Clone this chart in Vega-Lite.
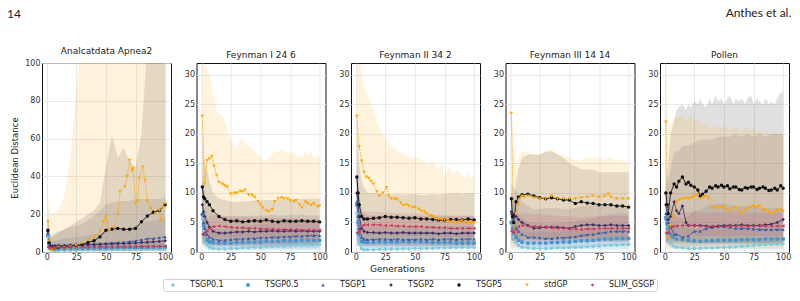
{
"$schema":"https://vega.github.io/schema/vega-lite/v6.json",
"autosize":{"type":"none"},
"padding":{"left":42,"top":63,"right":758,"bottom":238},
"background":"white",
"config":{
 "font":"DejaVu Sans",
 "view":{"stroke":"#111111","strokeWidth":1},
 "axis":{"labelFont":"DejaVu Sans","labelFontSize":8,"labelColor":"#333333","ticks":false,"domain":false,"gridColor":"#e4e4e4","gridWidth":0.8,"labelPadding":2,"titleFont":"DejaVu Sans","titleFontSize":9,"titleFontWeight":"normal","titleColor":"#222222"},
 "title":{"font":"DejaVu Sans","fontSize":9,"fontWeight":"normal","offset":3,"color":"#222222"},
 "legend":{"orient":"none","legendX":121,"legendY":216,"direction":"horizontal","columns":7,"title":null,"symbolSize":100,"symbolOffset":4,"labelFontSize":8,"labelFont":"DejaVu Sans","labelColor":"#222222","labelOffset":13,"columnPadding":16,"padding":2,"strokeColor":"#d0d0d0","cornerRadius":2,"fillColor":"white","symbolStrokeWidth":0}
},
"title":{"text":"14","anchor":"start","frame":"group","font":"Lato","fontSize":12,"fontWeight":"normal","color":"#222222","dx":-35,"offset":0,"dy":14},
"bounds":"flush",
"vconcat":[{
 "title":{"text":"Anthes et al.","anchor":"end","frame":"bounds","font":"Lato","fontSize":12,"fontWeight":"normal","color":"#222222","offset":27},
 "bounds":"flush",
 "spacing":25.5,
 "hconcat":[
  {"title":"Analcatdata Apnea2","width":129,"height":189,"data":{"name":"apnea"},
   "encoding":{"x":{"field":"g","type":"quantitative","scale":{"domain":[-3.95,104.95],"nice":false,"zero":false},"axis":{"values":[0,25,50,75,100],"title":null,"labelPadding":1}}},
   "layer":[
    {"transform":[{"filter":"isValid(datum.h)"}],"mark":{"type":"area","opacity":0.13,"clip":true},
     "encoding":{"y":{"field":"l","type":"quantitative","scale":{"domain":[0,100],"nice":false,"zero":false},"axis":{"values":[0,20,40,60,80,100],"title":"Euclidean Distance","titlePadding":5,"titleFontSize":8.5}},"y2":{"field":"h"},
      "color":{"field":"s","type":"nominal","scale":{"domain":["TSGP0.1","TSGP0.5","TSGP1","TSGP2","TSGP5","stdGP","SLIM_GSGP"],"range":["#7ecbdc","#4a92cb","#3d5aa8","#3a2e5f","#111111","#ffa500","#c9355a"]},
       "legend":{"orient":"none","legendX":121,"legendY":216,"direction":"horizontal","columns":7,"title":null,
        "encode":{"symbols":{"update":{
         "shape":{"signal":"datum.value=='TSGP0.1'?'M-1.75,-0.12L1.75,-0.12L1.75,0.12L-1.75,0.12ZM0.4,0L0.283,0.283L0,0.4L-0.283,0.283L-0.4,0L-0.283,-0.283L0,-0.4L0.283,-0.283Z':datum.value=='TSGP0.5'?'M-1.75,-0.12L-1.55,-0.12L-1.55,0.12L-1.75,0.12ZM-1.25,-0.12L-1.05,-0.12L-1.05,0.12L-1.25,0.12ZM-0.75,-0.12L-0.55,-0.12L-0.55,0.12L-0.75,0.12ZM0.75,-0.12L0.95,-0.12L0.95,0.12L0.75,0.12ZM1.25,-0.12L1.45,-0.12L1.45,0.12L1.25,0.12ZM-0.35,-0.35L0.35,-0.35L0.35,0.35L-0.35,0.35Z':datum.value=='TSGP1'?'M-1.75,-0.12L-1.15,-0.12L-1.15,0.12L-1.75,0.12ZM-0.85,-0.12L-0.25,-0.12L-0.25,0.12L-0.85,0.12ZM0.05,-0.12L0.65,-0.12L0.65,0.12L0.05,0.12ZM0.95,-0.12L1.55,-0.12L1.55,0.12L0.95,0.12ZM0,-0.45L0.4,0.3L-0.4,0.3Z':datum.value=='TSGP2'?'M-1.75,-0.1L1.75,-0.1L1.75,0.1L-1.75,0.1ZM0,-0.5L0.25,0L0,0.5L-0.25,0Z':datum.value=='TSGP5'?'M-1.75,-0.12L1.75,-0.12L1.75,0.12L-1.75,0.12ZM0.3,0L0.212,0.212L0,0.3L-0.212,0.212L-0.3,0L-0.212,-0.212L0,-0.3L0.212,-0.212Z':datum.value=='stdGP'?'M-1.75,-0.12L-1.55,-0.12L-1.55,0.12L-1.75,0.12ZM-1.25,-0.12L-1.05,-0.12L-1.05,0.12L-1.25,0.12ZM-0.75,-0.12L-0.55,-0.12L-0.55,0.12L-0.75,0.12ZM0.75,-0.12L0.95,-0.12L0.95,0.12L0.75,0.12ZM1.25,-0.12L1.45,-0.12L1.45,0.12L1.25,0.12ZM0,0.45L-0.4,-0.3L0.4,-0.3Z':'M-1.75,-0.12L-1.15,-0.12L-1.15,0.12L-1.75,0.12ZM-0.85,-0.12L-0.25,-0.12L-0.25,0.12L-0.85,0.12ZM0.05,-0.12L0.65,-0.12L0.65,0.12L0.05,0.12ZM0.95,-0.12L1.55,-0.12L1.55,0.12L0.95,0.12ZM-0.45,0L0.3,-0.4L0.3,0.4Z'"},
         "size":{"value":100},
         "fillOpacity":{"value":1},"opacity":{"value":1},"strokeWidth":{"value":0}}}}}}}},
    {"mark":{"type":"line","strokeWidth":1,"clip":true},
     "encoding":{"y":{"field":"y","type":"quantitative","scale":{"domain":[0,100],"nice":false,"zero":false},"axis":{"values":[0,20,40,60,80,100],"title":"Euclidean Distance","titlePadding":5,"titleFontSize":8.5}},
      "color":{"field":"s","type":"nominal","scale":{"domain":["TSGP0.1","TSGP0.5","TSGP1","TSGP2","TSGP5","stdGP","SLIM_GSGP"],"range":["#7ecbdc","#4a92cb","#3d5aa8","#3a2e5f","#111111","#ffa500","#c9355a"]},
       "legend":{"orient":"none","legendX":121,"legendY":216,"direction":"horizontal","columns":7,"title":null,
        "encode":{"symbols":{"update":{
         "shape":{"signal":"datum.value=='TSGP0.1'?'M-1.75,-0.12L1.75,-0.12L1.75,0.12L-1.75,0.12ZM0.4,0L0.283,0.283L0,0.4L-0.283,0.283L-0.4,0L-0.283,-0.283L0,-0.4L0.283,-0.283Z':datum.value=='TSGP0.5'?'M-1.75,-0.12L-1.55,-0.12L-1.55,0.12L-1.75,0.12ZM-1.25,-0.12L-1.05,-0.12L-1.05,0.12L-1.25,0.12ZM-0.75,-0.12L-0.55,-0.12L-0.55,0.12L-0.75,0.12ZM0.75,-0.12L0.95,-0.12L0.95,0.12L0.75,0.12ZM1.25,-0.12L1.45,-0.12L1.45,0.12L1.25,0.12ZM-0.35,-0.35L0.35,-0.35L0.35,0.35L-0.35,0.35Z':datum.value=='TSGP1'?'M-1.75,-0.12L-1.15,-0.12L-1.15,0.12L-1.75,0.12ZM-0.85,-0.12L-0.25,-0.12L-0.25,0.12L-0.85,0.12ZM0.05,-0.12L0.65,-0.12L0.65,0.12L0.05,0.12ZM0.95,-0.12L1.55,-0.12L1.55,0.12L0.95,0.12ZM0,-0.45L0.4,0.3L-0.4,0.3Z':datum.value=='TSGP2'?'M-1.75,-0.1L1.75,-0.1L1.75,0.1L-1.75,0.1ZM0,-0.5L0.25,0L0,0.5L-0.25,0Z':datum.value=='TSGP5'?'M-1.75,-0.12L1.75,-0.12L1.75,0.12L-1.75,0.12ZM0.3,0L0.212,0.212L0,0.3L-0.212,0.212L-0.3,0L-0.212,-0.212L0,-0.3L0.212,-0.212Z':datum.value=='stdGP'?'M-1.75,-0.12L-1.55,-0.12L-1.55,0.12L-1.75,0.12ZM-1.25,-0.12L-1.05,-0.12L-1.05,0.12L-1.25,0.12ZM-0.75,-0.12L-0.55,-0.12L-0.55,0.12L-0.75,0.12ZM0.75,-0.12L0.95,-0.12L0.95,0.12L0.75,0.12ZM1.25,-0.12L1.45,-0.12L1.45,0.12L1.25,0.12ZM0,0.45L-0.4,-0.3L0.4,-0.3Z':'M-1.75,-0.12L-1.15,-0.12L-1.15,0.12L-1.75,0.12ZM-0.85,-0.12L-0.25,-0.12L-0.25,0.12L-0.85,0.12ZM0.05,-0.12L0.65,-0.12L0.65,0.12L0.05,0.12ZM0.95,-0.12L1.55,-0.12L1.55,0.12L0.95,0.12ZM-0.45,0L0.3,-0.4L0.3,0.4Z'"},
         "size":{"value":100},
         "fillOpacity":{"value":1},"opacity":{"value":1},"strokeWidth":{"value":0}}}}}},
      "strokeDash":{"field":"s","type":"nominal","scale":{"domain":["TSGP0.1","TSGP0.5","TSGP1","TSGP2","TSGP5","stdGP","SLIM_GSGP"],"range":[[1,0],[1,1],[3,1.5],[1,0],[1,0],[1,1],[3,1.5]]},"legend":null}}},
    {"mark":{"type":"point","filled":true,"opacity":1,"clip":true},
     "encoding":{"y":{"field":"y","type":"quantitative","scale":{"domain":[0,100],"nice":false,"zero":false},"axis":{"values":[0,20,40,60,80,100],"title":"Euclidean Distance","titlePadding":5,"titleFontSize":8.5}},
      "color":{"field":"s","type":"nominal","scale":{"domain":["TSGP0.1","TSGP0.5","TSGP1","TSGP2","TSGP5","stdGP","SLIM_GSGP"],"range":["#7ecbdc","#4a92cb","#3d5aa8","#3a2e5f","#111111","#ffa500","#c9355a"]},
       "legend":{"orient":"none","legendX":121,"legendY":216,"direction":"horizontal","columns":7,"title":null,
        "encode":{"symbols":{"update":{
         "shape":{"signal":"datum.value=='TSGP0.1'?'M-1.75,-0.12L1.75,-0.12L1.75,0.12L-1.75,0.12ZM0.4,0L0.283,0.283L0,0.4L-0.283,0.283L-0.4,0L-0.283,-0.283L0,-0.4L0.283,-0.283Z':datum.value=='TSGP0.5'?'M-1.75,-0.12L-1.55,-0.12L-1.55,0.12L-1.75,0.12ZM-1.25,-0.12L-1.05,-0.12L-1.05,0.12L-1.25,0.12ZM-0.75,-0.12L-0.55,-0.12L-0.55,0.12L-0.75,0.12ZM0.75,-0.12L0.95,-0.12L0.95,0.12L0.75,0.12ZM1.25,-0.12L1.45,-0.12L1.45,0.12L1.25,0.12ZM-0.35,-0.35L0.35,-0.35L0.35,0.35L-0.35,0.35Z':datum.value=='TSGP1'?'M-1.75,-0.12L-1.15,-0.12L-1.15,0.12L-1.75,0.12ZM-0.85,-0.12L-0.25,-0.12L-0.25,0.12L-0.85,0.12ZM0.05,-0.12L0.65,-0.12L0.65,0.12L0.05,0.12ZM0.95,-0.12L1.55,-0.12L1.55,0.12L0.95,0.12ZM0,-0.45L0.4,0.3L-0.4,0.3Z':datum.value=='TSGP2'?'M-1.75,-0.1L1.75,-0.1L1.75,0.1L-1.75,0.1ZM0,-0.5L0.25,0L0,0.5L-0.25,0Z':datum.value=='TSGP5'?'M-1.75,-0.12L1.75,-0.12L1.75,0.12L-1.75,0.12ZM0.3,0L0.212,0.212L0,0.3L-0.212,0.212L-0.3,0L-0.212,-0.212L0,-0.3L0.212,-0.212Z':datum.value=='stdGP'?'M-1.75,-0.12L-1.55,-0.12L-1.55,0.12L-1.75,0.12ZM-1.25,-0.12L-1.05,-0.12L-1.05,0.12L-1.25,0.12ZM-0.75,-0.12L-0.55,-0.12L-0.55,0.12L-0.75,0.12ZM0.75,-0.12L0.95,-0.12L0.95,0.12L0.75,0.12ZM1.25,-0.12L1.45,-0.12L1.45,0.12L1.25,0.12ZM0,0.45L-0.4,-0.3L0.4,-0.3Z':'M-1.75,-0.12L-1.15,-0.12L-1.15,0.12L-1.75,0.12ZM-0.85,-0.12L-0.25,-0.12L-0.25,0.12L-0.85,0.12ZM0.05,-0.12L0.65,-0.12L0.65,0.12L0.05,0.12ZM0.95,-0.12L1.55,-0.12L1.55,0.12L0.95,0.12ZM-0.45,0L0.3,-0.4L0.3,0.4Z'"},
         "size":{"value":100},
         "fillOpacity":{"value":1},"opacity":{"value":1},"strokeWidth":{"value":0}}}}}},
      "shape":{"field":"s","type":"nominal","scale":{"domain":["TSGP0.1","TSGP0.5","TSGP1","TSGP2","TSGP5","stdGP","SLIM_GSGP"],"range":["circle","square","triangle-up","diamond","circle","triangle-down","triangle-left"]},"legend":null},
      "size":{"field":"s","type":"nominal","scale":{"domain":["TSGP0.1","TSGP0.5","TSGP1","TSGP2","TSGP5","stdGP","SLIM_GSGP"],"range":[12,12,14,14,8,14,12]},"legend":null}}}
   ]},
  {"title":"Feynman I 24 6","width":129,"height":189,"data":{"name":"f1"},
   "encoding":{"x":{"field":"g","type":"quantitative","scale":{"domain":[-3.95,104.95],"nice":false,"zero":false},"axis":{"values":[0,25,50,75,100],"title":null,"labelPadding":1}}},
   "layer":[
    {"transform":[{"filter":"isValid(datum.h)"}],"mark":{"type":"area","opacity":0.13,"clip":true},
     "encoding":{"y":{"field":"l","type":"quantitative","scale":{"domain":[0,32],"nice":false,"zero":false},"axis":{"values":[0,5,10,15,20,25,30],"title":null}},"y2":{"field":"h"},
      "color":{"field":"s","type":"nominal","scale":{"domain":["TSGP0.1","TSGP0.5","TSGP1","TSGP2","TSGP5","stdGP","SLIM_GSGP"],"range":["#7ecbdc","#4a92cb","#3d5aa8","#3a2e5f","#111111","#ffa500","#c9355a"]}}}},
    {"mark":{"type":"line","strokeWidth":1,"clip":true},
     "encoding":{"y":{"field":"y","type":"quantitative","scale":{"domain":[0,32],"nice":false,"zero":false},"axis":{"values":[0,5,10,15,20,25,30],"title":null}},
      "color":{"field":"s","type":"nominal","scale":{"domain":["TSGP0.1","TSGP0.5","TSGP1","TSGP2","TSGP5","stdGP","SLIM_GSGP"],"range":["#7ecbdc","#4a92cb","#3d5aa8","#3a2e5f","#111111","#ffa500","#c9355a"]}},
      "strokeDash":{"field":"s","type":"nominal","scale":{"domain":["TSGP0.1","TSGP0.5","TSGP1","TSGP2","TSGP5","stdGP","SLIM_GSGP"],"range":[[1,0],[1,1],[3,1.5],[1,0],[1,0],[1,1],[3,1.5]]},"legend":null}}},
    {"mark":{"type":"point","filled":true,"opacity":1,"clip":true},
     "encoding":{"y":{"field":"y","type":"quantitative","scale":{"domain":[0,32],"nice":false,"zero":false},"axis":{"values":[0,5,10,15,20,25,30],"title":null}},
      "color":{"field":"s","type":"nominal","scale":{"domain":["TSGP0.1","TSGP0.5","TSGP1","TSGP2","TSGP5","stdGP","SLIM_GSGP"],"range":["#7ecbdc","#4a92cb","#3d5aa8","#3a2e5f","#111111","#ffa500","#c9355a"]}},
      "shape":{"field":"s","type":"nominal","scale":{"domain":["TSGP0.1","TSGP0.5","TSGP1","TSGP2","TSGP5","stdGP","SLIM_GSGP"],"range":["circle","square","triangle-up","diamond","circle","triangle-down","triangle-left"]},"legend":null},
      "size":{"field":"s","type":"nominal","scale":{"domain":["TSGP0.1","TSGP0.5","TSGP1","TSGP2","TSGP5","stdGP","SLIM_GSGP"],"range":[12,12,14,14,8,14,12]},"legend":null}}}
   ]},
  {"title":"Feynman II 34 2","width":129,"height":189,"data":{"name":"f2"},
   "encoding":{"x":{"field":"g","type":"quantitative","scale":{"domain":[-3.95,104.95],"nice":false,"zero":false},"axis":{"values":[0,25,50,75,100],"title":"Generations","titleX":46,"titlePadding":3,"labelPadding":1}}},
   "layer":[
    {"transform":[{"filter":"isValid(datum.h)"}],"mark":{"type":"area","opacity":0.13,"clip":true},
     "encoding":{"y":{"field":"l","type":"quantitative","scale":{"domain":[0,32],"nice":false,"zero":false},"axis":{"values":[0,5,10,15,20,25,30],"title":null}},"y2":{"field":"h"},
      "color":{"field":"s","type":"nominal","scale":{"domain":["TSGP0.1","TSGP0.5","TSGP1","TSGP2","TSGP5","stdGP","SLIM_GSGP"],"range":["#7ecbdc","#4a92cb","#3d5aa8","#3a2e5f","#111111","#ffa500","#c9355a"]}}}},
    {"mark":{"type":"line","strokeWidth":1,"clip":true},
     "encoding":{"y":{"field":"y","type":"quantitative","scale":{"domain":[0,32],"nice":false,"zero":false},"axis":{"values":[0,5,10,15,20,25,30],"title":null}},
      "color":{"field":"s","type":"nominal","scale":{"domain":["TSGP0.1","TSGP0.5","TSGP1","TSGP2","TSGP5","stdGP","SLIM_GSGP"],"range":["#7ecbdc","#4a92cb","#3d5aa8","#3a2e5f","#111111","#ffa500","#c9355a"]}},
      "strokeDash":{"field":"s","type":"nominal","scale":{"domain":["TSGP0.1","TSGP0.5","TSGP1","TSGP2","TSGP5","stdGP","SLIM_GSGP"],"range":[[1,0],[1,1],[3,1.5],[1,0],[1,0],[1,1],[3,1.5]]},"legend":null}}},
    {"mark":{"type":"point","filled":true,"opacity":1,"clip":true},
     "encoding":{"y":{"field":"y","type":"quantitative","scale":{"domain":[0,32],"nice":false,"zero":false},"axis":{"values":[0,5,10,15,20,25,30],"title":null}},
      "color":{"field":"s","type":"nominal","scale":{"domain":["TSGP0.1","TSGP0.5","TSGP1","TSGP2","TSGP5","stdGP","SLIM_GSGP"],"range":["#7ecbdc","#4a92cb","#3d5aa8","#3a2e5f","#111111","#ffa500","#c9355a"]}},
      "shape":{"field":"s","type":"nominal","scale":{"domain":["TSGP0.1","TSGP0.5","TSGP1","TSGP2","TSGP5","stdGP","SLIM_GSGP"],"range":["circle","square","triangle-up","diamond","circle","triangle-down","triangle-left"]},"legend":null},
      "size":{"field":"s","type":"nominal","scale":{"domain":["TSGP0.1","TSGP0.5","TSGP1","TSGP2","TSGP5","stdGP","SLIM_GSGP"],"range":[12,12,14,14,8,14,12]},"legend":null}}}
   ]},
  {"title":"Feynman III 14 14","width":129,"height":189,"data":{"name":"f3"},
   "encoding":{"x":{"field":"g","type":"quantitative","scale":{"domain":[-3.95,104.95],"nice":false,"zero":false},"axis":{"values":[0,25,50,75,100],"title":null,"labelPadding":1}}},
   "layer":[
    {"transform":[{"filter":"isValid(datum.h)"}],"mark":{"type":"area","opacity":0.13,"clip":true},
     "encoding":{"y":{"field":"l","type":"quantitative","scale":{"domain":[0,32],"nice":false,"zero":false},"axis":{"values":[0,5,10,15,20,25,30],"title":null}},"y2":{"field":"h"},
      "color":{"field":"s","type":"nominal","scale":{"domain":["TSGP0.1","TSGP0.5","TSGP1","TSGP2","TSGP5","stdGP","SLIM_GSGP"],"range":["#7ecbdc","#4a92cb","#3d5aa8","#3a2e5f","#111111","#ffa500","#c9355a"]}}}},
    {"mark":{"type":"line","strokeWidth":1,"clip":true},
     "encoding":{"y":{"field":"y","type":"quantitative","scale":{"domain":[0,32],"nice":false,"zero":false},"axis":{"values":[0,5,10,15,20,25,30],"title":null}},
      "color":{"field":"s","type":"nominal","scale":{"domain":["TSGP0.1","TSGP0.5","TSGP1","TSGP2","TSGP5","stdGP","SLIM_GSGP"],"range":["#7ecbdc","#4a92cb","#3d5aa8","#3a2e5f","#111111","#ffa500","#c9355a"]}},
      "strokeDash":{"field":"s","type":"nominal","scale":{"domain":["TSGP0.1","TSGP0.5","TSGP1","TSGP2","TSGP5","stdGP","SLIM_GSGP"],"range":[[1,0],[1,1],[3,1.5],[1,0],[1,0],[1,1],[3,1.5]]},"legend":null}}},
    {"mark":{"type":"point","filled":true,"opacity":1,"clip":true},
     "encoding":{"y":{"field":"y","type":"quantitative","scale":{"domain":[0,32],"nice":false,"zero":false},"axis":{"values":[0,5,10,15,20,25,30],"title":null}},
      "color":{"field":"s","type":"nominal","scale":{"domain":["TSGP0.1","TSGP0.5","TSGP1","TSGP2","TSGP5","stdGP","SLIM_GSGP"],"range":["#7ecbdc","#4a92cb","#3d5aa8","#3a2e5f","#111111","#ffa500","#c9355a"]}},
      "shape":{"field":"s","type":"nominal","scale":{"domain":["TSGP0.1","TSGP0.5","TSGP1","TSGP2","TSGP5","stdGP","SLIM_GSGP"],"range":["circle","square","triangle-up","diamond","circle","triangle-down","triangle-left"]},"legend":null},
      "size":{"field":"s","type":"nominal","scale":{"domain":["TSGP0.1","TSGP0.5","TSGP1","TSGP2","TSGP5","stdGP","SLIM_GSGP"],"range":[12,12,14,14,8,14,12]},"legend":null}}}
   ]},
  {"title":"Pollen","width":129,"height":189,"data":{"name":"pollen"},
   "encoding":{"x":{"field":"g","type":"quantitative","scale":{"domain":[-3.95,104.95],"nice":false,"zero":false},"axis":{"values":[0,25,50,75,100],"title":null,"labelPadding":1}}},
   "layer":[
    {"transform":[{"filter":"isValid(datum.h)"}],"mark":{"type":"area","opacity":0.13,"clip":true},
     "encoding":{"y":{"field":"l","type":"quantitative","scale":{"domain":[0,32],"nice":false,"zero":false},"axis":{"values":[0,5,10,15,20,25,30],"title":null}},"y2":{"field":"h"},
      "color":{"field":"s","type":"nominal","scale":{"domain":["TSGP0.1","TSGP0.5","TSGP1","TSGP2","TSGP5","stdGP","SLIM_GSGP"],"range":["#7ecbdc","#4a92cb","#3d5aa8","#3a2e5f","#111111","#ffa500","#c9355a"]}}}},
    {"mark":{"type":"line","strokeWidth":1,"clip":true},
     "encoding":{"y":{"field":"y","type":"quantitative","scale":{"domain":[0,32],"nice":false,"zero":false},"axis":{"values":[0,5,10,15,20,25,30],"title":null}},
      "color":{"field":"s","type":"nominal","scale":{"domain":["TSGP0.1","TSGP0.5","TSGP1","TSGP2","TSGP5","stdGP","SLIM_GSGP"],"range":["#7ecbdc","#4a92cb","#3d5aa8","#3a2e5f","#111111","#ffa500","#c9355a"]}},
      "strokeDash":{"field":"s","type":"nominal","scale":{"domain":["TSGP0.1","TSGP0.5","TSGP1","TSGP2","TSGP5","stdGP","SLIM_GSGP"],"range":[[1,0],[1,1],[3,1.5],[1,0],[1,0],[1,1],[3,1.5]]},"legend":null}}},
    {"mark":{"type":"point","filled":true,"opacity":1,"clip":true},
     "encoding":{"y":{"field":"y","type":"quantitative","scale":{"domain":[0,32],"nice":false,"zero":false},"axis":{"values":[0,5,10,15,20,25,30],"title":null}},
      "color":{"field":"s","type":"nominal","scale":{"domain":["TSGP0.1","TSGP0.5","TSGP1","TSGP2","TSGP5","stdGP","SLIM_GSGP"],"range":["#7ecbdc","#4a92cb","#3d5aa8","#3a2e5f","#111111","#ffa500","#c9355a"]}},
      "shape":{"field":"s","type":"nominal","scale":{"domain":["TSGP0.1","TSGP0.5","TSGP1","TSGP2","TSGP5","stdGP","SLIM_GSGP"],"range":["circle","square","triangle-up","diamond","circle","triangle-down","triangle-left"]},"legend":null},
      "size":{"field":"s","type":"nominal","scale":{"domain":["TSGP0.1","TSGP0.5","TSGP1","TSGP2","TSGP5","stdGP","SLIM_GSGP"],"range":[12,12,14,14,8,14,12]},"legend":null}}}
   ]}
 ]
}],
"datasets":{
"apnea":[
{"s":"TSGP0.1","g":1,"y":8,"l":1,"h":13},{"s":"TSGP0.1","g":2,"y":3,"l":0.5,"h":7},{"s":"TSGP0.1","g":3,"y":1.5,"l":0.3,"h":4},{"s":"TSGP0.1","g":5,"y":1,"l":0.2,"h":3},{"s":"TSGP0.1","g":7,"y":0.8,"l":0.2,"h":2.8},{"s":"TSGP0.1","g":10,"y":0.8,"l":0.2,"h":2.8},{"s":"TSGP0.1","g":15,"y":0.8,"l":0.2,"h":2.8},{"s":"TSGP0.1","g":20,"y":0.9,"l":0.2,"h":3},{"s":"TSGP0.1","g":25,"y":0.9,"l":0.2,"h":3},{"s":"TSGP0.1","g":30,"y":1,"l":0.2,"h":3},{"s":"TSGP0.1","g":35,"y":1,"l":0.2,"h":3.2},{"s":"TSGP0.1","g":40,"y":1,"l":0.2,"h":3.2},{"s":"TSGP0.1","g":45,"y":1.1,"l":0.2,"h":3.3},{"s":"TSGP0.1","g":50,"y":1.1,"l":0.2,"h":3.3},{"s":"TSGP0.1","g":55,"y":1.2,"l":0.2,"h":3.4},{"s":"TSGP0.1","g":60,"y":1.2,"l":0.2,"h":3.5},{"s":"TSGP0.1","g":65,"y":1.2,"l":0.2,"h":3.5},{"s":"TSGP0.1","g":70,"y":1.3,"l":0.2,"h":3.6},{"s":"TSGP0.1","g":75,"y":1.3,"l":0.2,"h":3.6},{"s":"TSGP0.1","g":80,"y":1.4,"l":0.2,"h":3.7},{"s":"TSGP0.1","g":85,"y":1.4,"l":0.2,"h":3.8},{"s":"TSGP0.1","g":90,"y":1.5,"l":0.2,"h":3.8},{"s":"TSGP0.1","g":95,"y":1.5,"l":0.2,"h":3.9},{"s":"TSGP0.1","g":100,"y":1.6,"l":0.2,"h":4},
{"s":"TSGP0.5","g":1,"y":9,"l":2,"h":14},{"s":"TSGP0.5","g":2,"y":4,"l":1,"h":8},{"s":"TSGP0.5","g":3,"y":2.2,"l":0.6,"h":5},{"s":"TSGP0.5","g":5,"y":1.8,"l":0.5,"h":4.5},{"s":"TSGP0.5","g":7,"y":1.7,"l":0.5,"h":4.5},{"s":"TSGP0.5","g":10,"y":1.7,"l":0.5,"h":4.5},{"s":"TSGP0.5","g":15,"y":1.8,"l":0.5,"h":4.6},{"s":"TSGP0.5","g":20,"y":1.8,"l":0.5,"h":4.7},{"s":"TSGP0.5","g":25,"y":1.9,"l":0.5,"h":4.8},{"s":"TSGP0.5","g":30,"y":2,"l":0.5,"h":5},{"s":"TSGP0.5","g":35,"y":2,"l":0.5,"h":5},{"s":"TSGP0.5","g":40,"y":2.1,"l":0.5,"h":5.2},{"s":"TSGP0.5","g":45,"y":2.1,"l":0.5,"h":5.3},{"s":"TSGP0.5","g":50,"y":2.2,"l":0.5,"h":5.4},{"s":"TSGP0.5","g":55,"y":2.2,"l":0.5,"h":5.5},{"s":"TSGP0.5","g":60,"y":2.3,"l":0.5,"h":5.6},{"s":"TSGP0.5","g":65,"y":2.3,"l":0.5,"h":5.7},{"s":"TSGP0.5","g":70,"y":2.4,"l":0.5,"h":5.8},{"s":"TSGP0.5","g":75,"y":2.4,"l":0.5,"h":6},{"s":"TSGP0.5","g":80,"y":2.5,"l":0.5,"h":6},{"s":"TSGP0.5","g":85,"y":2.5,"l":0.5,"h":6.2},{"s":"TSGP0.5","g":90,"y":2.6,"l":0.5,"h":6.3},{"s":"TSGP0.5","g":95,"y":2.6,"l":0.5,"h":6.4},{"s":"TSGP0.5","g":100,"y":2.7,"l":0.5,"h":6.5},
{"s":"TSGP1","g":1,"y":10,"l":2,"h":16},{"s":"TSGP1","g":2,"y":5,"l":1,"h":9},{"s":"TSGP1","g":3,"y":3,"l":0.8,"h":6},{"s":"TSGP1","g":5,"y":2.5,"l":0.7,"h":5.5},{"s":"TSGP1","g":7,"y":2.6,"l":0.7,"h":6},{"s":"TSGP1","g":10,"y":2.8,"l":0.7,"h":6.5},{"s":"TSGP1","g":15,"y":3,"l":0.8,"h":7},{"s":"TSGP1","g":20,"y":3.2,"l":0.8,"h":7.5},{"s":"TSGP1","g":25,"y":3.4,"l":0.8,"h":8},{"s":"TSGP1","g":30,"y":3.6,"l":0.8,"h":8.5},{"s":"TSGP1","g":35,"y":3.8,"l":0.8,"h":9},{"s":"TSGP1","g":40,"y":4,"l":0.9,"h":9.5},{"s":"TSGP1","g":45,"y":4.2,"l":0.9,"h":10},{"s":"TSGP1","g":50,"y":4.5,"l":0.9,"h":11},{"s":"TSGP1","g":55,"y":4.8,"l":0.9,"h":11.5},{"s":"TSGP1","g":60,"y":5,"l":1,"h":12},{"s":"TSGP1","g":65,"y":5.2,"l":1,"h":12.5},{"s":"TSGP1","g":70,"y":5.5,"l":1,"h":13},{"s":"TSGP1","g":75,"y":6,"l":1,"h":14},{"s":"TSGP1","g":80,"y":6.5,"l":1,"h":15},{"s":"TSGP1","g":85,"y":7,"l":1,"h":16},{"s":"TSGP1","g":90,"y":7.2,"l":1,"h":16.5},{"s":"TSGP1","g":95,"y":7.5,"l":1,"h":17},{"s":"TSGP1","g":100,"y":8,"l":1,"h":18},
{"s":"TSGP2","g":1,"y":11,"l":2,"h":20},{"s":"TSGP2","g":2,"y":5,"l":1,"h":12},{"s":"TSGP2","g":3,"y":3.5,"l":0.8,"h":9},{"s":"TSGP2","g":5,"y":3.2,"l":0.8,"h":9},{"s":"TSGP2","g":7,"y":3.3,"l":0.8,"h":10},{"s":"TSGP2","g":10,"y":3.4,"l":0.8,"h":11},{"s":"TSGP2","g":15,"y":3.5,"l":0.8,"h":12},{"s":"TSGP2","g":20,"y":3.6,"l":0.8,"h":13},{"s":"TSGP2","g":25,"y":3.7,"l":0.8,"h":14},{"s":"TSGP2","g":30,"y":3.8,"l":0.8,"h":15},{"s":"TSGP2","g":35,"y":3.9,"l":0.8,"h":17},{"s":"TSGP2","g":40,"y":4,"l":0.8,"h":19},{"s":"TSGP2","g":45,"y":4.1,"l":0.8,"h":22},{"s":"TSGP2","g":50,"y":4.2,"l":0.8,"h":25},{"s":"TSGP2","g":55,"y":4.3,"l":0.8,"h":26},{"s":"TSGP2","g":60,"y":4.4,"l":0.8,"h":27},{"s":"TSGP2","g":65,"y":4.5,"l":0.8,"h":27},{"s":"TSGP2","g":70,"y":4.6,"l":0.8,"h":27},{"s":"TSGP2","g":75,"y":4.8,"l":0.8,"h":28},{"s":"TSGP2","g":80,"y":5,"l":0.8,"h":28},{"s":"TSGP2","g":85,"y":5.2,"l":0.8,"h":28},{"s":"TSGP2","g":90,"y":5.4,"l":0.8,"h":28},{"s":"TSGP2","g":95,"y":5.6,"l":0.8,"h":28},{"s":"TSGP2","g":100,"y":6,"l":0.8,"h":29},
{"s":"TSGP5","g":1,"y":11.5,"l":1,"h":25},{"s":"TSGP5","g":2,"y":5,"l":0.8,"h":12},{"s":"TSGP5","g":3,"y":2.5,"l":0.5,"h":8},{"s":"TSGP5","g":5,"y":2,"l":0.5,"h":8},{"s":"TSGP5","g":7,"y":2.2,"l":0.5,"h":9},{"s":"TSGP5","g":10,"y":2.5,"l":0.5,"h":10},{"s":"TSGP5","g":15,"y":2.8,"l":0.5,"h":12},{"s":"TSGP5","g":20,"y":3,"l":0.5,"h":14},{"s":"TSGP5","g":25,"y":3.5,"l":0.5,"h":16},{"s":"TSGP5","g":30,"y":4,"l":0.5,"h":18},{"s":"TSGP5","g":35,"y":5,"l":0.6,"h":20},{"s":"TSGP5","g":40,"y":6,"l":0.6,"h":22},{"s":"TSGP5","g":45,"y":8,"l":0.7,"h":26},{"s":"TSGP5","g":50,"y":11.5,"l":0.8,"h":45},{"s":"TSGP5","g":55,"y":12,"l":0.8,"h":62},{"s":"TSGP5","g":60,"y":12.5,"l":0.8,"h":50},{"s":"TSGP5","g":65,"y":12,"l":0.8,"h":55},{"s":"TSGP5","g":70,"y":12,"l":0.8,"h":48},{"s":"TSGP5","g":75,"y":12.5,"l":0.8,"h":45},{"s":"TSGP5","g":80,"y":16,"l":0.8,"h":62},{"s":"TSGP5","g":85,"y":19,"l":0.9,"h":110},{"s":"TSGP5","g":90,"y":21,"l":0.9,"h":110},{"s":"TSGP5","g":95,"y":22,"l":0.9,"h":110},{"s":"TSGP5","g":100,"y":25,"l":1,"h":110},
{"s":"stdGP","g":1,"y":16,"l":0.5,"h":30},{"s":"stdGP","g":2,"y":6,"l":0.3,"h":25},{"s":"stdGP","g":3,"y":1,"l":0.2,"h":20},{"s":"stdGP","g":5,"y":1.5,"l":0.2,"h":20},{"s":"stdGP","g":7,"y":2,"l":0.2,"h":21},{"s":"stdGP","g":10,"y":2.5,"l":0.2,"h":22},{"s":"stdGP","g":15,"y":2.5,"l":0.2,"h":30},{"s":"stdGP","g":20,"y":2.8,"l":0.2,"h":50},{"s":"stdGP","g":25,"y":3.5,"l":0.2,"h":85},{"s":"stdGP","g":30,"y":4.6,"l":0.2,"h":120},{"s":"stdGP","g":35,"y":6.3,"l":0.3,"h":120},{"s":"stdGP","g":40,"y":8,"l":0.3,"h":120},{"s":"stdGP","g":45,"y":11,"l":0.3,"h":120},{"s":"stdGP","g":48,"y":16,"l":0.4,"h":120},{"s":"stdGP","g":50,"y":18.7,"l":0.4,"h":120},{"s":"stdGP","g":53,"y":11.5,"l":0.4,"h":120},{"s":"stdGP","g":57,"y":13,"l":0.4,"h":120},{"s":"stdGP","g":60,"y":20,"l":0.4,"h":120},{"s":"stdGP","g":62,"y":32,"l":0.4,"h":120},{"s":"stdGP","g":66,"y":34.5,"l":0.5,"h":120},{"s":"stdGP","g":68,"y":40,"l":0.5,"h":120},{"s":"stdGP","g":70,"y":48.5,"l":0.5,"h":120},{"s":"stdGP","g":72,"y":43,"l":0.5,"h":120},{"s":"stdGP","g":73,"y":44,"l":0.5,"h":120},{"s":"stdGP","g":75,"y":25.7,"l":0.5,"h":120},{"s":"stdGP","g":77,"y":27,"l":0.5,"h":120},{"s":"stdGP","g":78,"y":39,"l":0.5,"h":120},{"s":"stdGP","g":81,"y":45,"l":0.5,"h":120},{"s":"stdGP","g":83,"y":38,"l":0.5,"h":120},{"s":"stdGP","g":85,"y":27,"l":0.5,"h":120},{"s":"stdGP","g":88,"y":23,"l":0.5,"h":120},{"s":"stdGP","g":92,"y":20.4,"l":0.5,"h":120},{"s":"stdGP","g":95,"y":22,"l":0.5,"h":120},{"s":"stdGP","g":96,"y":17,"l":0.5,"h":120},{"s":"stdGP","g":98,"y":24,"l":0.5,"h":120},{"s":"stdGP","g":100,"y":25.7,"l":0.5,"h":120},
{"s":"SLIM_GSGP","g":1,"y":2.5,"l":1.5,"h":4},{"s":"SLIM_GSGP","g":2,"y":2.4,"l":1.4,"h":3.8},{"s":"SLIM_GSGP","g":3,"y":2.3,"l":1.3,"h":3.6},{"s":"SLIM_GSGP","g":5,"y":2.3,"l":1.3,"h":3.6},{"s":"SLIM_GSGP","g":7,"y":2.4,"l":1.4,"h":3.8},{"s":"SLIM_GSGP","g":10,"y":2.4,"l":1.4,"h":3.8},{"s":"SLIM_GSGP","g":15,"y":2.5,"l":1.5,"h":4},{"s":"SLIM_GSGP","g":20,"y":2.5,"l":1.5,"h":4},{"s":"SLIM_GSGP","g":25,"y":2.6,"l":1.5,"h":4.1},{"s":"SLIM_GSGP","g":30,"y":2.6,"l":1.5,"h":4.1},{"s":"SLIM_GSGP","g":35,"y":2.6,"l":1.5,"h":4.2},{"s":"SLIM_GSGP","g":40,"y":2.7,"l":1.5,"h":4.2},{"s":"SLIM_GSGP","g":45,"y":2.7,"l":1.5,"h":4.3},{"s":"SLIM_GSGP","g":50,"y":2.7,"l":1.5,"h":4.3},{"s":"SLIM_GSGP","g":55,"y":2.8,"l":1.6,"h":4.4},{"s":"SLIM_GSGP","g":60,"y":2.8,"l":1.6,"h":4.4},{"s":"SLIM_GSGP","g":65,"y":2.8,"l":1.6,"h":4.5},{"s":"SLIM_GSGP","g":70,"y":2.8,"l":1.6,"h":4.5},{"s":"SLIM_GSGP","g":75,"y":2.9,"l":1.6,"h":4.6},{"s":"SLIM_GSGP","g":80,"y":2.9,"l":1.6,"h":4.6},{"s":"SLIM_GSGP","g":85,"y":2.9,"l":1.6,"h":4.7},{"s":"SLIM_GSGP","g":90,"y":3,"l":1.7,"h":4.7},{"s":"SLIM_GSGP","g":95,"y":3,"l":1.7,"h":4.8},{"s":"SLIM_GSGP","g":100,"y":3,"l":1.7,"h":4.8}
],
"f1":[
{"s":"TSGP0.1","g":1,"y":5.6,"l":1,"h":9},{"s":"TSGP0.1","g":2,"y":3.5,"l":0.6,"h":6},{"s":"TSGP0.1","g":3,"y":2,"l":0.4,"h":4},{"s":"TSGP0.1","g":5,"y":1.2,"l":0.2,"h":2.5},{"s":"TSGP0.1","g":7,"y":0.8,"l":0.1,"h":2},{"s":"TSGP0.1","g":10,"y":0.6,"l":0.1,"h":1.6},{"s":"TSGP0.1","g":15,"y":0.5,"l":0.1,"h":1.5},{"s":"TSGP0.1","g":20,"y":0.5,"l":0.1,"h":1.5},{"s":"TSGP0.1","g":25,"y":0.6,"l":0.1,"h":1.6},{"s":"TSGP0.1","g":30,"y":0.6,"l":0.1,"h":1.6},{"s":"TSGP0.1","g":35,"y":0.7,"l":0.1,"h":1.7},{"s":"TSGP0.1","g":40,"y":0.7,"l":0.1,"h":1.8},{"s":"TSGP0.1","g":45,"y":0.8,"l":0.1,"h":1.9},{"s":"TSGP0.1","g":50,"y":0.8,"l":0.1,"h":1.9},{"s":"TSGP0.1","g":55,"y":0.9,"l":0.1,"h":2},{"s":"TSGP0.1","g":60,"y":0.9,"l":0.1,"h":2},{"s":"TSGP0.1","g":65,"y":1,"l":0.1,"h":2.1},{"s":"TSGP0.1","g":70,"y":1,"l":0.1,"h":2.1},{"s":"TSGP0.1","g":75,"y":1.1,"l":0.1,"h":2.2},{"s":"TSGP0.1","g":80,"y":1.1,"l":0.1,"h":2.2},{"s":"TSGP0.1","g":85,"y":1.2,"l":0.1,"h":2.3},{"s":"TSGP0.1","g":90,"y":1.2,"l":0.1,"h":2.3},{"s":"TSGP0.1","g":95,"y":1.2,"l":0.1,"h":2.4},{"s":"TSGP0.1","g":100,"y":1.3,"l":0.1,"h":2.4},
{"s":"TSGP0.5","g":1,"y":6.3,"l":1.5,"h":10},{"s":"TSGP0.5","g":2,"y":4.5,"l":1,"h":7.5},{"s":"TSGP0.5","g":3,"y":3,"l":0.7,"h":5.5},{"s":"TSGP0.5","g":5,"y":2,"l":0.5,"h":4},{"s":"TSGP0.5","g":7,"y":1.7,"l":0.4,"h":3.5},{"s":"TSGP0.5","g":10,"y":1.6,"l":0.4,"h":3.3},{"s":"TSGP0.5","g":15,"y":1.5,"l":0.4,"h":3.2},{"s":"TSGP0.5","g":20,"y":1.5,"l":0.4,"h":3.2},{"s":"TSGP0.5","g":25,"y":1.5,"l":0.4,"h":3.2},{"s":"TSGP0.5","g":30,"y":1.6,"l":0.4,"h":3.3},{"s":"TSGP0.5","g":35,"y":1.6,"l":0.4,"h":3.3},{"s":"TSGP0.5","g":40,"y":1.7,"l":0.4,"h":3.4},{"s":"TSGP0.5","g":45,"y":1.7,"l":0.4,"h":3.4},{"s":"TSGP0.5","g":50,"y":1.7,"l":0.4,"h":3.5},{"s":"TSGP0.5","g":55,"y":1.8,"l":0.4,"h":3.5},{"s":"TSGP0.5","g":60,"y":1.8,"l":0.4,"h":3.6},{"s":"TSGP0.5","g":65,"y":1.8,"l":0.4,"h":3.6},{"s":"TSGP0.5","g":70,"y":1.9,"l":0.4,"h":3.7},{"s":"TSGP0.5","g":75,"y":1.9,"l":0.4,"h":3.7},{"s":"TSGP0.5","g":80,"y":1.9,"l":0.4,"h":3.8},{"s":"TSGP0.5","g":85,"y":2,"l":0.4,"h":3.8},{"s":"TSGP0.5","g":90,"y":2,"l":0.4,"h":3.9},{"s":"TSGP0.5","g":95,"y":2,"l":0.4,"h":3.9},{"s":"TSGP0.5","g":100,"y":2,"l":0.4,"h":4},
{"s":"TSGP1","g":1,"y":6.5,"l":2,"h":11},{"s":"TSGP1","g":2,"y":5,"l":1.5,"h":8.5},{"s":"TSGP1","g":3,"y":4,"l":1.2,"h":7},{"s":"TSGP1","g":5,"y":3,"l":0.8,"h":5.5},{"s":"TSGP1","g":7,"y":2.5,"l":0.7,"h":4.8},{"s":"TSGP1","g":10,"y":2.2,"l":0.6,"h":4.3},{"s":"TSGP1","g":15,"y":2,"l":0.6,"h":4},{"s":"TSGP1","g":20,"y":2,"l":0.6,"h":4},{"s":"TSGP1","g":25,"y":2.1,"l":0.6,"h":4.2},{"s":"TSGP1","g":30,"y":2.2,"l":0.6,"h":4.3},{"s":"TSGP1","g":35,"y":2.2,"l":0.6,"h":4.4},{"s":"TSGP1","g":40,"y":2.3,"l":0.6,"h":4.5},{"s":"TSGP1","g":45,"y":2.3,"l":0.6,"h":4.6},{"s":"TSGP1","g":50,"y":2.4,"l":0.6,"h":4.7},{"s":"TSGP1","g":55,"y":2.4,"l":0.6,"h":4.8},{"s":"TSGP1","g":60,"y":2.5,"l":0.6,"h":4.9},{"s":"TSGP1","g":65,"y":2.5,"l":0.6,"h":5},{"s":"TSGP1","g":70,"y":2.6,"l":0.6,"h":5},{"s":"TSGP1","g":75,"y":2.6,"l":0.6,"h":5.1},{"s":"TSGP1","g":80,"y":2.7,"l":0.6,"h":5.2},{"s":"TSGP1","g":85,"y":2.7,"l":0.6,"h":5.2},{"s":"TSGP1","g":90,"y":2.8,"l":0.6,"h":5.3},{"s":"TSGP1","g":95,"y":2.8,"l":0.6,"h":5.3},{"s":"TSGP1","g":100,"y":2.8,"l":0.6,"h":5.4},
{"s":"TSGP2","g":1,"y":8,"l":2.5,"h":14},{"s":"TSGP2","g":2,"y":6.8,"l":2,"h":12},{"s":"TSGP2","g":3,"y":6,"l":1.8,"h":10},{"s":"TSGP2","g":5,"y":5,"l":1.6,"h":8.5},{"s":"TSGP2","g":7,"y":4.2,"l":1.5,"h":7.5},{"s":"TSGP2","g":10,"y":3.5,"l":1.4,"h":6.5},{"s":"TSGP2","g":15,"y":3.2,"l":1.3,"h":6},{"s":"TSGP2","g":20,"y":3.2,"l":1.3,"h":6},{"s":"TSGP2","g":25,"y":3.3,"l":1.3,"h":6},{"s":"TSGP2","g":30,"y":3.4,"l":1.3,"h":6},{"s":"TSGP2","g":35,"y":3.4,"l":1.3,"h":6.1},{"s":"TSGP2","g":40,"y":3.5,"l":1.3,"h":6.2},{"s":"TSGP2","g":45,"y":3.4,"l":1.3,"h":6.1},{"s":"TSGP2","g":50,"y":3.5,"l":1.3,"h":6.2},{"s":"TSGP2","g":55,"y":3.5,"l":1.3,"h":6.2},{"s":"TSGP2","g":60,"y":3.6,"l":1.3,"h":6.3},{"s":"TSGP2","g":65,"y":3.5,"l":1.3,"h":6.2},{"s":"TSGP2","g":70,"y":3.5,"l":1.3,"h":6.2},{"s":"TSGP2","g":75,"y":3.6,"l":1.3,"h":6.3},{"s":"TSGP2","g":80,"y":3.5,"l":1.3,"h":6.2},{"s":"TSGP2","g":85,"y":3.6,"l":1.3,"h":6.3},{"s":"TSGP2","g":90,"y":3.5,"l":1.3,"h":6.2},{"s":"TSGP2","g":95,"y":3.5,"l":1.3,"h":6.2},{"s":"TSGP2","g":100,"y":3.5,"l":1.3,"h":6.2},
{"s":"TSGP5","g":1,"y":11,"l":1.5,"h":20},{"s":"TSGP5","g":2,"y":9.3,"l":1.3,"h":16},{"s":"TSGP5","g":3,"y":9,"l":1.2,"h":15},{"s":"TSGP5","g":5,"y":8.5,"l":1.1,"h":14},{"s":"TSGP5","g":7,"y":8,"l":1,"h":12},{"s":"TSGP5","g":10,"y":7,"l":1,"h":10},{"s":"TSGP5","g":15,"y":6,"l":1,"h":9},{"s":"TSGP5","g":20,"y":5.5,"l":1,"h":8.8},{"s":"TSGP5","g":25,"y":5.2,"l":1,"h":8.5},{"s":"TSGP5","g":30,"y":5.3,"l":1,"h":8.5},{"s":"TSGP5","g":35,"y":5.1,"l":1,"h":8.6},{"s":"TSGP5","g":40,"y":5.2,"l":1,"h":8.6},{"s":"TSGP5","g":45,"y":5.3,"l":1,"h":8.7},{"s":"TSGP5","g":50,"y":5.2,"l":1,"h":8.7},{"s":"TSGP5","g":55,"y":5.4,"l":1,"h":8.8},{"s":"TSGP5","g":60,"y":5.2,"l":1,"h":8.8},{"s":"TSGP5","g":65,"y":5.1,"l":1,"h":8.8},{"s":"TSGP5","g":70,"y":5.3,"l":1,"h":8.9},{"s":"TSGP5","g":75,"y":5.2,"l":1,"h":8.9},{"s":"TSGP5","g":80,"y":5.2,"l":1,"h":9},{"s":"TSGP5","g":85,"y":5.3,"l":1,"h":9},{"s":"TSGP5","g":90,"y":5.2,"l":1,"h":9},{"s":"TSGP5","g":95,"y":5.2,"l":1,"h":9},{"s":"TSGP5","g":100,"y":5.1,"l":1,"h":9},
{"s":"stdGP","g":1,"y":23,"l":1,"h":35},{"s":"stdGP","g":3,"y":11.5,"l":2,"h":32},{"s":"stdGP","g":5,"y":15.5,"l":2,"h":31},{"s":"stdGP","g":7,"y":15.8,"l":2,"h":30},{"s":"stdGP","g":9,"y":16.2,"l":2,"h":28},{"s":"stdGP","g":11,"y":14.5,"l":2,"h":26},{"s":"stdGP","g":13,"y":13,"l":2,"h":24},{"s":"stdGP","g":15,"y":11.8,"l":2,"h":23.5},{"s":"stdGP","g":18,"y":11.5,"l":2,"h":23},{"s":"stdGP","g":20,"y":11.2,"l":2,"h":22},{"s":"stdGP","g":22,"y":11,"l":2,"h":21},{"s":"stdGP","g":25,"y":9.8,"l":2,"h":19},{"s":"stdGP","g":28,"y":10,"l":2,"h":18},{"s":"stdGP","g":30,"y":10,"l":2,"h":17.5},{"s":"stdGP","g":33,"y":10.3,"l":2,"h":19},{"s":"stdGP","g":35,"y":10.2,"l":2,"h":19},{"s":"stdGP","g":37,"y":10.5,"l":2,"h":18.5},{"s":"stdGP","g":40,"y":9.7,"l":2,"h":18},{"s":"stdGP","g":43,"y":9.6,"l":2,"h":17.5},{"s":"stdGP","g":45,"y":9.3,"l":2,"h":17},{"s":"stdGP","g":48,"y":8.5,"l":2,"h":16.5},{"s":"stdGP","g":50,"y":8,"l":2,"h":16},{"s":"stdGP","g":52,"y":7.5,"l":2,"h":15.5},{"s":"stdGP","g":55,"y":7,"l":2,"h":15.5},{"s":"stdGP","g":57,"y":6.8,"l":2,"h":16},{"s":"stdGP","g":60,"y":7.2,"l":2,"h":16.5},{"s":"stdGP","g":62,"y":8.5,"l":2,"h":17},{"s":"stdGP","g":65,"y":9,"l":2,"h":17},{"s":"stdGP","g":68,"y":9.2,"l":2,"h":17.5},{"s":"stdGP","g":70,"y":9,"l":2,"h":17},{"s":"stdGP","g":73,"y":9,"l":2,"h":17},{"s":"stdGP","g":75,"y":8.7,"l":2,"h":16.5},{"s":"stdGP","g":78,"y":8.5,"l":2,"h":17},{"s":"stdGP","g":80,"y":8.7,"l":2,"h":16},{"s":"stdGP","g":83,"y":8,"l":2,"h":16.5},{"s":"stdGP","g":85,"y":7.5,"l":2,"h":16},{"s":"stdGP","g":88,"y":8.5,"l":2,"h":17},{"s":"stdGP","g":90,"y":8.2,"l":2,"h":16.5},{"s":"stdGP","g":93,"y":7.9,"l":2,"h":17},{"s":"stdGP","g":95,"y":8.2,"l":2,"h":16},{"s":"stdGP","g":98,"y":7.7,"l":2,"h":16.5},{"s":"stdGP","g":100,"y":7.8,"l":2,"h":16},
{"s":"SLIM_GSGP","g":1,"y":3,"l":1.5,"h":5},{"s":"SLIM_GSGP","g":2,"y":3.1,"l":1.6,"h":5.2},{"s":"SLIM_GSGP","g":3,"y":3.3,"l":1.8,"h":5.5},{"s":"SLIM_GSGP","g":5,"y":3.6,"l":2,"h":5.8},{"s":"SLIM_GSGP","g":7,"y":4,"l":2.3,"h":6},{"s":"SLIM_GSGP","g":10,"y":4.3,"l":2.5,"h":6.2},{"s":"SLIM_GSGP","g":15,"y":4.4,"l":2.6,"h":6.3},{"s":"SLIM_GSGP","g":20,"y":4.3,"l":2.6,"h":6.2},{"s":"SLIM_GSGP","g":25,"y":4.2,"l":2.5,"h":6.1},{"s":"SLIM_GSGP","g":30,"y":4.1,"l":2.5,"h":6},{"s":"SLIM_GSGP","g":35,"y":4.1,"l":2.5,"h":6},{"s":"SLIM_GSGP","g":40,"y":4,"l":2.4,"h":5.9},{"s":"SLIM_GSGP","g":45,"y":4,"l":2.4,"h":5.9},{"s":"SLIM_GSGP","g":50,"y":3.9,"l":2.4,"h":5.8},{"s":"SLIM_GSGP","g":55,"y":3.9,"l":2.4,"h":5.8},{"s":"SLIM_GSGP","g":60,"y":3.9,"l":2.4,"h":5.8},{"s":"SLIM_GSGP","g":65,"y":3.8,"l":2.3,"h":5.7},{"s":"SLIM_GSGP","g":70,"y":3.8,"l":2.3,"h":5.7},{"s":"SLIM_GSGP","g":75,"y":3.8,"l":2.3,"h":5.7},{"s":"SLIM_GSGP","g":80,"y":3.8,"l":2.3,"h":5.7},{"s":"SLIM_GSGP","g":85,"y":3.7,"l":2.3,"h":5.6},{"s":"SLIM_GSGP","g":90,"y":3.7,"l":2.3,"h":5.6},{"s":"SLIM_GSGP","g":95,"y":3.7,"l":2.3,"h":5.6},{"s":"SLIM_GSGP","g":100,"y":3.7,"l":2.3,"h":5.6}
],
"f2":[
{"s":"TSGP0.1","g":1,"y":6.5,"l":1,"h":10},{"s":"TSGP0.1","g":2,"y":3,"l":0.4,"h":5.5},{"s":"TSGP0.1","g":3,"y":1.5,"l":0.2,"h":3.5},{"s":"TSGP0.1","g":5,"y":0.6,"l":0.1,"h":1.8},{"s":"TSGP0.1","g":7,"y":0.4,"l":0.05,"h":1.3},{"s":"TSGP0.1","g":10,"y":0.4,"l":0.05,"h":1.2},{"s":"TSGP0.1","g":15,"y":0.4,"l":0.05,"h":1.2},{"s":"TSGP0.1","g":20,"y":0.45,"l":0.05,"h":1.3},{"s":"TSGP0.1","g":25,"y":0.5,"l":0.05,"h":1.3},{"s":"TSGP0.1","g":30,"y":0.5,"l":0.05,"h":1.4},{"s":"TSGP0.1","g":35,"y":0.5,"l":0.05,"h":1.4},{"s":"TSGP0.1","g":40,"y":0.55,"l":0.05,"h":1.5},{"s":"TSGP0.1","g":45,"y":0.55,"l":0.05,"h":1.5},{"s":"TSGP0.1","g":50,"y":0.6,"l":0.05,"h":1.5},{"s":"TSGP0.1","g":55,"y":0.6,"l":0.05,"h":1.6},{"s":"TSGP0.1","g":60,"y":0.65,"l":0.05,"h":1.6},{"s":"TSGP0.1","g":65,"y":0.65,"l":0.05,"h":1.7},{"s":"TSGP0.1","g":70,"y":0.7,"l":0.05,"h":1.7},{"s":"TSGP0.1","g":75,"y":0.7,"l":0.05,"h":1.8},{"s":"TSGP0.1","g":80,"y":0.75,"l":0.05,"h":1.8},{"s":"TSGP0.1","g":85,"y":0.75,"l":0.05,"h":1.8},{"s":"TSGP0.1","g":90,"y":0.8,"l":0.05,"h":1.9},{"s":"TSGP0.1","g":95,"y":0.8,"l":0.05,"h":1.9},{"s":"TSGP0.1","g":100,"y":0.8,"l":0.05,"h":1.9},
{"s":"TSGP0.5","g":1,"y":8,"l":2,"h":12},{"s":"TSGP0.5","g":2,"y":5,"l":1.2,"h":8},{"s":"TSGP0.5","g":3,"y":3,"l":0.8,"h":5.5},{"s":"TSGP0.5","g":5,"y":1.8,"l":0.5,"h":3.8},{"s":"TSGP0.5","g":7,"y":1.7,"l":0.5,"h":3.5},{"s":"TSGP0.5","g":10,"y":1.6,"l":0.5,"h":3.4},{"s":"TSGP0.5","g":15,"y":1.6,"l":0.5,"h":3.4},{"s":"TSGP0.5","g":20,"y":1.7,"l":0.5,"h":3.5},{"s":"TSGP0.5","g":25,"y":1.7,"l":0.5,"h":3.5},{"s":"TSGP0.5","g":30,"y":1.7,"l":0.5,"h":3.5},{"s":"TSGP0.5","g":35,"y":1.7,"l":0.5,"h":3.5},{"s":"TSGP0.5","g":40,"y":1.8,"l":0.5,"h":3.6},{"s":"TSGP0.5","g":45,"y":1.7,"l":0.5,"h":3.5},{"s":"TSGP0.5","g":50,"y":1.8,"l":0.5,"h":3.6},{"s":"TSGP0.5","g":55,"y":1.7,"l":0.5,"h":3.5},{"s":"TSGP0.5","g":60,"y":1.7,"l":0.5,"h":3.5},{"s":"TSGP0.5","g":65,"y":1.6,"l":0.5,"h":3.4},{"s":"TSGP0.5","g":70,"y":1.6,"l":0.5,"h":3.4},{"s":"TSGP0.5","g":75,"y":1.6,"l":0.5,"h":3.4},{"s":"TSGP0.5","g":80,"y":1.6,"l":0.5,"h":3.4},{"s":"TSGP0.5","g":85,"y":1.5,"l":0.5,"h":3.3},{"s":"TSGP0.5","g":90,"y":1.5,"l":0.5,"h":3.3},{"s":"TSGP0.5","g":95,"y":1.5,"l":0.5,"h":3.3},{"s":"TSGP0.5","g":100,"y":1.5,"l":0.5,"h":3.3},
{"s":"TSGP1","g":1,"y":8.5,"l":2.5,"h":13},{"s":"TSGP1","g":2,"y":6,"l":1.8,"h":9.5},{"s":"TSGP1","g":3,"y":4,"l":1.2,"h":7},{"s":"TSGP1","g":5,"y":2.5,"l":0.8,"h":4.8},{"s":"TSGP1","g":7,"y":2.2,"l":0.7,"h":4.4},{"s":"TSGP1","g":10,"y":2.1,"l":0.7,"h":4.3},{"s":"TSGP1","g":15,"y":2.1,"l":0.7,"h":4.3},{"s":"TSGP1","g":20,"y":2.2,"l":0.7,"h":4.4},{"s":"TSGP1","g":25,"y":2.2,"l":0.7,"h":4.4},{"s":"TSGP1","g":30,"y":2.1,"l":0.7,"h":4.3},{"s":"TSGP1","g":35,"y":2.2,"l":0.7,"h":4.4},{"s":"TSGP1","g":40,"y":2.1,"l":0.7,"h":4.3},{"s":"TSGP1","g":45,"y":2.1,"l":0.7,"h":4.3},{"s":"TSGP1","g":50,"y":2.1,"l":0.7,"h":4.3},{"s":"TSGP1","g":55,"y":2.2,"l":0.7,"h":4.4},{"s":"TSGP1","g":60,"y":2.1,"l":0.7,"h":4.3},{"s":"TSGP1","g":65,"y":2.2,"l":0.7,"h":4.4},{"s":"TSGP1","g":70,"y":2.1,"l":0.7,"h":4.3},{"s":"TSGP1","g":75,"y":2.2,"l":0.7,"h":4.4},{"s":"TSGP1","g":80,"y":2.2,"l":0.7,"h":4.4},{"s":"TSGP1","g":85,"y":2.1,"l":0.7,"h":4.3},{"s":"TSGP1","g":90,"y":2.2,"l":0.7,"h":4.4},{"s":"TSGP1","g":95,"y":2.2,"l":0.7,"h":4.4},{"s":"TSGP1","g":100,"y":2.2,"l":0.7,"h":4.4},
{"s":"TSGP2","g":1,"y":10,"l":3,"h":16},{"s":"TSGP2","g":2,"y":8,"l":2.5,"h":13},{"s":"TSGP2","g":3,"y":6,"l":2,"h":10},{"s":"TSGP2","g":5,"y":4,"l":1.5,"h":7.5},{"s":"TSGP2","g":7,"y":3.5,"l":1.4,"h":6.5},{"s":"TSGP2","g":10,"y":3.3,"l":1.3,"h":6.2},{"s":"TSGP2","g":15,"y":3.3,"l":1.3,"h":6.2},{"s":"TSGP2","g":20,"y":3.2,"l":1.3,"h":6.1},{"s":"TSGP2","g":25,"y":3.3,"l":1.3,"h":6.2},{"s":"TSGP2","g":30,"y":3.2,"l":1.3,"h":6.1},{"s":"TSGP2","g":35,"y":3.2,"l":1.3,"h":6.1},{"s":"TSGP2","g":40,"y":3.3,"l":1.3,"h":6.2},{"s":"TSGP2","g":45,"y":3.2,"l":1.3,"h":6.1},{"s":"TSGP2","g":50,"y":3.2,"l":1.3,"h":6.1},{"s":"TSGP2","g":55,"y":3.2,"l":1.3,"h":6.1},{"s":"TSGP2","g":60,"y":3.2,"l":1.3,"h":6.1},{"s":"TSGP2","g":65,"y":3.2,"l":1.3,"h":6.1},{"s":"TSGP2","g":70,"y":3.1,"l":1.3,"h":6},{"s":"TSGP2","g":75,"y":3.2,"l":1.3,"h":6.1},{"s":"TSGP2","g":80,"y":3.2,"l":1.3,"h":6.1},{"s":"TSGP2","g":85,"y":3.1,"l":1.3,"h":6},{"s":"TSGP2","g":90,"y":3.2,"l":1.3,"h":6.1},{"s":"TSGP2","g":95,"y":3.2,"l":1.3,"h":6.1},{"s":"TSGP2","g":100,"y":3.2,"l":1.3,"h":6.1},
{"s":"TSGP5","g":1,"y":12.7,"l":1,"h":22},{"s":"TSGP5","g":2,"y":10,"l":1,"h":18},{"s":"TSGP5","g":3,"y":8,"l":1,"h":15},{"s":"TSGP5","g":5,"y":6,"l":1,"h":12},{"s":"TSGP5","g":7,"y":5.6,"l":1,"h":11},{"s":"TSGP5","g":10,"y":5.6,"l":1,"h":10},{"s":"TSGP5","g":15,"y":5.7,"l":1,"h":10},{"s":"TSGP5","g":20,"y":5.8,"l":1,"h":9.8},{"s":"TSGP5","g":25,"y":6,"l":1,"h":9.8},{"s":"TSGP5","g":30,"y":5.9,"l":1,"h":9.7},{"s":"TSGP5","g":35,"y":5.9,"l":1,"h":9.8},{"s":"TSGP5","g":40,"y":5.8,"l":1,"h":9.7},{"s":"TSGP5","g":45,"y":5.7,"l":1,"h":9.8},{"s":"TSGP5","g":50,"y":5.8,"l":1,"h":9.8},{"s":"TSGP5","g":55,"y":5.6,"l":1,"h":9.6},{"s":"TSGP5","g":60,"y":5.6,"l":1,"h":9.7},{"s":"TSGP5","g":65,"y":5.5,"l":1,"h":9.8},{"s":"TSGP5","g":70,"y":5.4,"l":1,"h":9.7},{"s":"TSGP5","g":75,"y":5.4,"l":1,"h":9.8},{"s":"TSGP5","g":80,"y":5.5,"l":1,"h":9.9},{"s":"TSGP5","g":85,"y":5.5,"l":1,"h":10},{"s":"TSGP5","g":90,"y":5.4,"l":1,"h":9.8},{"s":"TSGP5","g":95,"y":5.6,"l":1,"h":10},{"s":"TSGP5","g":100,"y":5.4,"l":1,"h":10},
{"s":"stdGP","g":1,"y":23,"l":1,"h":35},{"s":"stdGP","g":3,"y":17.8,"l":2,"h":33},{"s":"stdGP","g":5,"y":15.4,"l":2,"h":30},{"s":"stdGP","g":7,"y":13.5,"l":2,"h":28},{"s":"stdGP","g":9,"y":12.7,"l":2,"h":27},{"s":"stdGP","g":11,"y":12.5,"l":2,"h":26},{"s":"stdGP","g":13,"y":12,"l":2,"h":25},{"s":"stdGP","g":15,"y":11.5,"l":2,"h":24},{"s":"stdGP","g":18,"y":10.2,"l":2,"h":22},{"s":"stdGP","g":20,"y":9.5,"l":2,"h":21},{"s":"stdGP","g":23,"y":10,"l":2,"h":20},{"s":"stdGP","g":26,"y":10.9,"l":2,"h":19},{"s":"stdGP","g":28,"y":9.5,"l":2,"h":18.5},{"s":"stdGP","g":30,"y":9,"l":2,"h":18},{"s":"stdGP","g":33,"y":9,"l":2,"h":17.5},{"s":"stdGP","g":35,"y":8.9,"l":2,"h":17},{"s":"stdGP","g":38,"y":8.3,"l":2,"h":17},{"s":"stdGP","g":40,"y":7.9,"l":2,"h":16.5},{"s":"stdGP","g":43,"y":8,"l":2,"h":16.5},{"s":"stdGP","g":45,"y":7.8,"l":2,"h":16},{"s":"stdGP","g":48,"y":7.5,"l":2,"h":16},{"s":"stdGP","g":50,"y":7.6,"l":2,"h":16},{"s":"stdGP","g":53,"y":7.3,"l":2,"h":16},{"s":"stdGP","g":55,"y":7,"l":2,"h":15.5},{"s":"stdGP","g":58,"y":6.8,"l":2,"h":15.5},{"s":"stdGP","g":60,"y":6.5,"l":2,"h":15},{"s":"stdGP","g":63,"y":6.2,"l":2,"h":15},{"s":"stdGP","g":65,"y":6,"l":2,"h":15.5},{"s":"stdGP","g":68,"y":5.7,"l":2,"h":14.5},{"s":"stdGP","g":70,"y":5.5,"l":2,"h":14},{"s":"stdGP","g":73,"y":5.6,"l":2,"h":15},{"s":"stdGP","g":75,"y":5.4,"l":2,"h":13},{"s":"stdGP","g":78,"y":5.3,"l":2,"h":14.5},{"s":"stdGP","g":80,"y":5.1,"l":2,"h":14},{"s":"stdGP","g":83,"y":5.2,"l":2,"h":13},{"s":"stdGP","g":85,"y":5,"l":2,"h":14},{"s":"stdGP","g":88,"y":5.1,"l":2,"h":13.5},{"s":"stdGP","g":90,"y":5.3,"l":2,"h":13},{"s":"stdGP","g":93,"y":5,"l":2,"h":12.5},{"s":"stdGP","g":95,"y":4.9,"l":2,"h":13.5},{"s":"stdGP","g":98,"y":5,"l":2,"h":12.5},{"s":"stdGP","g":100,"y":5,"l":2,"h":13},
{"s":"SLIM_GSGP","g":1,"y":3.2,"l":1.8,"h":5.5},{"s":"SLIM_GSGP","g":2,"y":3.3,"l":1.9,"h":5.6},{"s":"SLIM_GSGP","g":3,"y":3.5,"l":2,"h":5.9},{"s":"SLIM_GSGP","g":5,"y":4.2,"l":2.6,"h":6.5},{"s":"SLIM_GSGP","g":7,"y":4.6,"l":2.9,"h":6.8},{"s":"SLIM_GSGP","g":10,"y":4.6,"l":2.9,"h":6.8},{"s":"SLIM_GSGP","g":15,"y":4.6,"l":2.9,"h":6.8},{"s":"SLIM_GSGP","g":20,"y":4.6,"l":2.9,"h":6.8},{"s":"SLIM_GSGP","g":25,"y":4.5,"l":2.8,"h":6.7},{"s":"SLIM_GSGP","g":30,"y":4.5,"l":2.8,"h":6.7},{"s":"SLIM_GSGP","g":35,"y":4.4,"l":2.8,"h":6.6},{"s":"SLIM_GSGP","g":40,"y":4.4,"l":2.8,"h":6.6},{"s":"SLIM_GSGP","g":45,"y":4.3,"l":2.7,"h":6.5},{"s":"SLIM_GSGP","g":50,"y":4.3,"l":2.7,"h":6.5},{"s":"SLIM_GSGP","g":55,"y":4.3,"l":2.7,"h":6.5},{"s":"SLIM_GSGP","g":60,"y":4.2,"l":2.7,"h":6.4},{"s":"SLIM_GSGP","g":65,"y":4.2,"l":2.7,"h":6.4},{"s":"SLIM_GSGP","g":70,"y":4.1,"l":2.6,"h":6.3},{"s":"SLIM_GSGP","g":75,"y":4.1,"l":2.6,"h":6.3},{"s":"SLIM_GSGP","g":80,"y":4,"l":2.6,"h":6.2},{"s":"SLIM_GSGP","g":85,"y":4,"l":2.6,"h":6.2},{"s":"SLIM_GSGP","g":90,"y":4,"l":2.6,"h":6.2},{"s":"SLIM_GSGP","g":95,"y":4,"l":2.6,"h":6.2},{"s":"SLIM_GSGP","g":100,"y":4,"l":2.6,"h":6.2}
],
"f3":[
{"s":"TSGP0.1","g":1,"y":4.8,"l":1,"h":8},{"s":"TSGP0.1","g":2,"y":3.5,"l":0.6,"h":6},{"s":"TSGP0.1","g":3,"y":2.5,"l":0.4,"h":4.5},{"s":"TSGP0.1","g":5,"y":1.6,"l":0.2,"h":3},{"s":"TSGP0.1","g":7,"y":1.1,"l":0.1,"h":2.2},{"s":"TSGP0.1","g":10,"y":0.8,"l":0.1,"h":1.8},{"s":"TSGP0.1","g":15,"y":0.7,"l":0.1,"h":1.6},{"s":"TSGP0.1","g":20,"y":0.6,"l":0.1,"h":1.5},{"s":"TSGP0.1","g":25,"y":0.6,"l":0.1,"h":1.5},{"s":"TSGP0.1","g":30,"y":0.6,"l":0.1,"h":1.5},{"s":"TSGP0.1","g":35,"y":0.65,"l":0.1,"h":1.6},{"s":"TSGP0.1","g":40,"y":0.7,"l":0.1,"h":1.6},{"s":"TSGP0.1","g":45,"y":0.7,"l":0.1,"h":1.7},{"s":"TSGP0.1","g":50,"y":0.75,"l":0.1,"h":1.8},{"s":"TSGP0.1","g":55,"y":0.8,"l":0.1,"h":1.8},{"s":"TSGP0.1","g":60,"y":0.85,"l":0.1,"h":1.9},{"s":"TSGP0.1","g":65,"y":0.9,"l":0.1,"h":2},{"s":"TSGP0.1","g":70,"y":0.95,"l":0.1,"h":2},{"s":"TSGP0.1","g":75,"y":1,"l":0.1,"h":2.1},{"s":"TSGP0.1","g":80,"y":1.1,"l":0.1,"h":2.2},{"s":"TSGP0.1","g":85,"y":1.15,"l":0.1,"h":2.3},{"s":"TSGP0.1","g":90,"y":1.2,"l":0.1,"h":2.3},{"s":"TSGP0.1","g":95,"y":1.25,"l":0.1,"h":2.4},{"s":"TSGP0.1","g":100,"y":1.3,"l":0.1,"h":2.5},
{"s":"TSGP0.5","g":1,"y":5,"l":1.5,"h":8.5},{"s":"TSGP0.5","g":2,"y":4,"l":1.2,"h":7},{"s":"TSGP0.5","g":3,"y":3.2,"l":1,"h":6},{"s":"TSGP0.5","g":5,"y":2.5,"l":0.8,"h":5},{"s":"TSGP0.5","g":7,"y":2,"l":0.6,"h":4.2},{"s":"TSGP0.5","g":10,"y":1.7,"l":0.5,"h":3.6},{"s":"TSGP0.5","g":15,"y":1.5,"l":0.5,"h":3.3},{"s":"TSGP0.5","g":20,"y":1.5,"l":0.5,"h":3.3},{"s":"TSGP0.5","g":25,"y":1.5,"l":0.5,"h":3.3},{"s":"TSGP0.5","g":30,"y":1.5,"l":0.5,"h":3.3},{"s":"TSGP0.5","g":35,"y":1.6,"l":0.5,"h":3.4},{"s":"TSGP0.5","g":40,"y":1.6,"l":0.5,"h":3.4},{"s":"TSGP0.5","g":45,"y":1.7,"l":0.5,"h":3.5},{"s":"TSGP0.5","g":50,"y":1.7,"l":0.5,"h":3.6},{"s":"TSGP0.5","g":55,"y":1.8,"l":0.5,"h":3.7},{"s":"TSGP0.5","g":60,"y":1.9,"l":0.5,"h":3.8},{"s":"TSGP0.5","g":65,"y":1.9,"l":0.5,"h":3.8},{"s":"TSGP0.5","g":70,"y":2,"l":0.5,"h":3.9},{"s":"TSGP0.5","g":75,"y":2.1,"l":0.5,"h":4},{"s":"TSGP0.5","g":80,"y":2.2,"l":0.5,"h":4.1},{"s":"TSGP0.5","g":85,"y":2.2,"l":0.5,"h":4.2},{"s":"TSGP0.5","g":90,"y":2.3,"l":0.5,"h":4.3},{"s":"TSGP0.5","g":95,"y":2.3,"l":0.5,"h":4.3},{"s":"TSGP0.5","g":100,"y":2.3,"l":0.5,"h":4.4},
{"s":"TSGP1","g":1,"y":6.5,"l":2,"h":11},{"s":"TSGP1","g":2,"y":5.8,"l":1.8,"h":10},{"s":"TSGP1","g":3,"y":5,"l":1.5,"h":9},{"s":"TSGP1","g":5,"y":4,"l":1.2,"h":7.5},{"s":"TSGP1","g":7,"y":3.5,"l":1,"h":6.5},{"s":"TSGP1","g":10,"y":3,"l":0.9,"h":5.8},{"s":"TSGP1","g":15,"y":2.5,"l":0.8,"h":5},{"s":"TSGP1","g":20,"y":2.5,"l":0.8,"h":5},{"s":"TSGP1","g":25,"y":2.4,"l":0.8,"h":4.9},{"s":"TSGP1","g":30,"y":2.3,"l":0.8,"h":4.8},{"s":"TSGP1","g":35,"y":2.3,"l":0.8,"h":4.8},{"s":"TSGP1","g":40,"y":2.4,"l":0.8,"h":4.9},{"s":"TSGP1","g":45,"y":2.4,"l":0.8,"h":5},{"s":"TSGP1","g":50,"y":2.5,"l":0.8,"h":5.1},{"s":"TSGP1","g":55,"y":2.6,"l":0.8,"h":5.2},{"s":"TSGP1","g":60,"y":2.8,"l":0.9,"h":5.5},{"s":"TSGP1","g":65,"y":2.9,"l":0.9,"h":5.6},{"s":"TSGP1","g":70,"y":3,"l":0.9,"h":5.8},{"s":"TSGP1","g":75,"y":3.2,"l":1,"h":6},{"s":"TSGP1","g":80,"y":3.3,"l":1,"h":6.2},{"s":"TSGP1","g":85,"y":3.5,"l":1,"h":6.4},{"s":"TSGP1","g":90,"y":3.5,"l":1,"h":6.5},{"s":"TSGP1","g":95,"y":3.5,"l":1,"h":6.5},{"s":"TSGP1","g":100,"y":3.5,"l":1,"h":6.5},
{"s":"TSGP2","g":1,"y":6.8,"l":2.2,"h":12},{"s":"TSGP2","g":2,"y":6.5,"l":2.1,"h":11.5},{"s":"TSGP2","g":3,"y":6.2,"l":2,"h":11},{"s":"TSGP2","g":5,"y":6,"l":2,"h":10.5},{"s":"TSGP2","g":7,"y":5.5,"l":1.9,"h":9.5},{"s":"TSGP2","g":10,"y":5,"l":1.8,"h":8.5},{"s":"TSGP2","g":15,"y":4.5,"l":1.7,"h":7.8},{"s":"TSGP2","g":20,"y":4,"l":1.6,"h":7.2},{"s":"TSGP2","g":25,"y":4.1,"l":1.6,"h":7.3},{"s":"TSGP2","g":30,"y":4.2,"l":1.6,"h":7.4},{"s":"TSGP2","g":35,"y":4.2,"l":1.6,"h":7.4},{"s":"TSGP2","g":40,"y":4.2,"l":1.6,"h":7.4},{"s":"TSGP2","g":45,"y":4.1,"l":1.6,"h":7.3},{"s":"TSGP2","g":50,"y":4,"l":1.6,"h":7.2},{"s":"TSGP2","g":55,"y":4.3,"l":1.6,"h":7.5},{"s":"TSGP2","g":60,"y":4.5,"l":1.7,"h":7.8},{"s":"TSGP2","g":65,"y":4.6,"l":1.7,"h":7.9},{"s":"TSGP2","g":70,"y":4.6,"l":1.7,"h":7.9},{"s":"TSGP2","g":75,"y":4.5,"l":1.7,"h":7.8},{"s":"TSGP2","g":80,"y":4.5,"l":1.7,"h":7.8},{"s":"TSGP2","g":85,"y":4.6,"l":1.7,"h":7.9},{"s":"TSGP2","g":90,"y":4.5,"l":1.7,"h":7.8},{"s":"TSGP2","g":95,"y":4.5,"l":1.7,"h":7.8},{"s":"TSGP2","g":100,"y":4.5,"l":1.7,"h":7.8},
{"s":"TSGP5","g":1,"y":9,"l":2,"h":10},{"s":"TSGP5","g":2,"y":6,"l":1.8,"h":9.5},{"s":"TSGP5","g":3,"y":5,"l":1.8,"h":9},{"s":"TSGP5","g":5,"y":8.5,"l":2,"h":12},{"s":"TSGP5","g":7,"y":9.3,"l":2,"h":14},{"s":"TSGP5","g":10,"y":9.7,"l":2,"h":16},{"s":"TSGP5","g":15,"y":9.8,"l":2,"h":16.5},{"s":"TSGP5","g":20,"y":9.5,"l":2,"h":16.5},{"s":"TSGP5","g":25,"y":9.2,"l":2,"h":16.5},{"s":"TSGP5","g":30,"y":9,"l":2,"h":17},{"s":"TSGP5","g":35,"y":9.2,"l":2,"h":17},{"s":"TSGP5","g":40,"y":9,"l":2,"h":16.5},{"s":"TSGP5","g":45,"y":8.8,"l":2,"h":16},{"s":"TSGP5","g":50,"y":8.8,"l":2,"h":15},{"s":"TSGP5","g":55,"y":8.2,"l":2,"h":14.5},{"s":"TSGP5","g":60,"y":8.5,"l":2,"h":14},{"s":"TSGP5","g":65,"y":8.3,"l":2,"h":14},{"s":"TSGP5","g":70,"y":8.2,"l":2,"h":14},{"s":"TSGP5","g":75,"y":8,"l":2,"h":13.5},{"s":"TSGP5","g":80,"y":8,"l":2,"h":13.5},{"s":"TSGP5","g":85,"y":8,"l":2,"h":13.5},{"s":"TSGP5","g":90,"y":7.8,"l":2,"h":13.5},{"s":"TSGP5","g":95,"y":7.8,"l":2,"h":13.5},{"s":"TSGP5","g":100,"y":7.6,"l":2,"h":13.5},
{"s":"stdGP","g":1,"y":23.5,"l":0.5,"h":25},{"s":"stdGP","g":3,"y":3.2,"l":0.5,"h":18},{"s":"stdGP","g":5,"y":6.5,"l":1,"h":15},{"s":"stdGP","g":7,"y":8,"l":1.5,"h":16},{"s":"stdGP","g":8,"y":9,"l":1.5,"h":16.5},{"s":"stdGP","g":10,"y":9.5,"l":2,"h":17},{"s":"stdGP","g":12,"y":9.3,"l":2,"h":17},{"s":"stdGP","g":15,"y":9.5,"l":2,"h":17},{"s":"stdGP","g":20,"y":9.2,"l":2,"h":16.5},{"s":"stdGP","g":25,"y":9,"l":2,"h":16.5},{"s":"stdGP","g":30,"y":9,"l":2,"h":17},{"s":"stdGP","g":35,"y":9.5,"l":2,"h":17.5},{"s":"stdGP","g":40,"y":9,"l":2,"h":16.5},{"s":"stdGP","g":45,"y":9,"l":2,"h":16.5},{"s":"stdGP","g":50,"y":9,"l":2,"h":16},{"s":"stdGP","g":55,"y":9,"l":2,"h":15.5},{"s":"stdGP","g":60,"y":9.2,"l":2,"h":15.5},{"s":"stdGP","g":65,"y":9.3,"l":2,"h":16},{"s":"stdGP","g":70,"y":9.5,"l":2,"h":16},{"s":"stdGP","g":75,"y":9.3,"l":2,"h":16},{"s":"stdGP","g":80,"y":9.5,"l":2,"h":15.5},{"s":"stdGP","g":83,"y":9.8,"l":2,"h":16},{"s":"stdGP","g":85,"y":9.3,"l":2,"h":16},{"s":"stdGP","g":90,"y":9,"l":2,"h":15.5},{"s":"stdGP","g":95,"y":9,"l":2,"h":15.5},{"s":"stdGP","g":100,"y":9,"l":2,"h":15},
{"s":"SLIM_GSGP","g":1,"y":3.5,"l":2,"h":5.5},{"s":"SLIM_GSGP","g":2,"y":3.4,"l":2,"h":5.4},{"s":"SLIM_GSGP","g":3,"y":3.3,"l":1.9,"h":5.3},{"s":"SLIM_GSGP","g":5,"y":3.8,"l":2.2,"h":5.8},{"s":"SLIM_GSGP","g":7,"y":4.3,"l":2.6,"h":6.4},{"s":"SLIM_GSGP","g":10,"y":4.5,"l":2.8,"h":6.6},{"s":"SLIM_GSGP","g":15,"y":4.4,"l":2.7,"h":6.5},{"s":"SLIM_GSGP","g":20,"y":4.3,"l":2.6,"h":6.4},{"s":"SLIM_GSGP","g":25,"y":4.3,"l":2.6,"h":6.4},{"s":"SLIM_GSGP","g":30,"y":4.2,"l":2.6,"h":6.3},{"s":"SLIM_GSGP","g":35,"y":4.1,"l":2.5,"h":6.2},{"s":"SLIM_GSGP","g":40,"y":4,"l":2.5,"h":6.1},{"s":"SLIM_GSGP","g":45,"y":4,"l":2.5,"h":6.1},{"s":"SLIM_GSGP","g":50,"y":3.9,"l":2.4,"h":6},{"s":"SLIM_GSGP","g":55,"y":3.9,"l":2.4,"h":6},{"s":"SLIM_GSGP","g":60,"y":3.8,"l":2.4,"h":5.9},{"s":"SLIM_GSGP","g":65,"y":3.9,"l":2.4,"h":6},{"s":"SLIM_GSGP","g":70,"y":3.9,"l":2.4,"h":6},{"s":"SLIM_GSGP","g":75,"y":4,"l":2.5,"h":6.1},{"s":"SLIM_GSGP","g":80,"y":4,"l":2.5,"h":6.1},{"s":"SLIM_GSGP","g":85,"y":4,"l":2.5,"h":6.1},{"s":"SLIM_GSGP","g":90,"y":4,"l":2.5,"h":6.1},{"s":"SLIM_GSGP","g":95,"y":4,"l":2.5,"h":6.1},{"s":"SLIM_GSGP","g":100,"y":4,"l":2.5,"h":6.1}
],
"pollen":[
{"s":"TSGP0.1","g":1,"y":5.5,"l":1,"h":9},{"s":"TSGP0.1","g":2,"y":4,"l":0.7,"h":7},{"s":"TSGP0.1","g":3,"y":3,"l":0.5,"h":5},{"s":"TSGP0.1","g":5,"y":1.5,"l":0.2,"h":3},{"s":"TSGP0.1","g":7,"y":1,"l":0.1,"h":2.2},{"s":"TSGP0.1","g":10,"y":0.8,"l":0.1,"h":1.8},{"s":"TSGP0.1","g":15,"y":0.7,"l":0.1,"h":1.6},{"s":"TSGP0.1","g":20,"y":0.6,"l":0.1,"h":1.5},{"s":"TSGP0.1","g":25,"y":0.6,"l":0.1,"h":1.5},{"s":"TSGP0.1","g":30,"y":0.65,"l":0.1,"h":1.6},{"s":"TSGP0.1","g":35,"y":0.7,"l":0.1,"h":1.6},{"s":"TSGP0.1","g":40,"y":0.7,"l":0.1,"h":1.7},{"s":"TSGP0.1","g":45,"y":0.75,"l":0.1,"h":1.7},{"s":"TSGP0.1","g":50,"y":0.8,"l":0.1,"h":1.8},{"s":"TSGP0.1","g":55,"y":0.85,"l":0.1,"h":1.9},{"s":"TSGP0.1","g":60,"y":0.9,"l":0.1,"h":1.9},{"s":"TSGP0.1","g":65,"y":0.95,"l":0.1,"h":2},{"s":"TSGP0.1","g":70,"y":1,"l":0.1,"h":2.1},{"s":"TSGP0.1","g":75,"y":1.1,"l":0.1,"h":2.2},{"s":"TSGP0.1","g":80,"y":1.2,"l":0.1,"h":2.3},{"s":"TSGP0.1","g":85,"y":1.25,"l":0.1,"h":2.4},{"s":"TSGP0.1","g":90,"y":1.3,"l":0.1,"h":2.5},{"s":"TSGP0.1","g":95,"y":1.35,"l":0.1,"h":2.5},{"s":"TSGP0.1","g":100,"y":1.4,"l":0.1,"h":2.6},
{"s":"TSGP0.5","g":1,"y":5.8,"l":1.5,"h":9.5},{"s":"TSGP0.5","g":2,"y":4.8,"l":1.2,"h":8},{"s":"TSGP0.5","g":3,"y":4,"l":1,"h":7},{"s":"TSGP0.5","g":5,"y":3,"l":0.8,"h":5.5},{"s":"TSGP0.5","g":7,"y":2.5,"l":0.7,"h":4.8},{"s":"TSGP0.5","g":10,"y":2.2,"l":0.6,"h":4.3},{"s":"TSGP0.5","g":15,"y":2.1,"l":0.6,"h":4.2},{"s":"TSGP0.5","g":20,"y":2,"l":0.6,"h":4},{"s":"TSGP0.5","g":25,"y":1.9,"l":0.6,"h":3.9},{"s":"TSGP0.5","g":30,"y":1.8,"l":0.6,"h":3.8},{"s":"TSGP0.5","g":35,"y":1.9,"l":0.6,"h":3.9},{"s":"TSGP0.5","g":40,"y":1.9,"l":0.6,"h":3.9},{"s":"TSGP0.5","g":45,"y":2,"l":0.6,"h":4},{"s":"TSGP0.5","g":50,"y":2,"l":0.6,"h":4},{"s":"TSGP0.5","g":55,"y":2,"l":0.6,"h":4},{"s":"TSGP0.5","g":60,"y":2,"l":0.6,"h":4.1},{"s":"TSGP0.5","g":65,"y":2.1,"l":0.6,"h":4.2},{"s":"TSGP0.5","g":70,"y":2.1,"l":0.6,"h":4.2},{"s":"TSGP0.5","g":75,"y":2.1,"l":0.6,"h":4.2},{"s":"TSGP0.5","g":80,"y":2.1,"l":0.6,"h":4.2},{"s":"TSGP0.5","g":85,"y":2.2,"l":0.6,"h":4.3},{"s":"TSGP0.5","g":90,"y":2.2,"l":0.6,"h":4.3},{"s":"TSGP0.5","g":95,"y":2.2,"l":0.6,"h":4.3},{"s":"TSGP0.5","g":100,"y":2.2,"l":0.6,"h":4.3},
{"s":"TSGP1","g":1,"y":6.5,"l":2,"h":11},{"s":"TSGP1","g":2,"y":5.5,"l":1.7,"h":9.5},{"s":"TSGP1","g":3,"y":5,"l":1.5,"h":9},{"s":"TSGP1","g":5,"y":4.5,"l":1.3,"h":8},{"s":"TSGP1","g":8,"y":3,"l":1,"h":6},{"s":"TSGP1","g":10,"y":3,"l":1,"h":6},{"s":"TSGP1","g":15,"y":2.5,"l":0.8,"h":5.5},{"s":"TSGP1","g":20,"y":2.7,"l":0.9,"h":6},{"s":"TSGP1","g":25,"y":3.5,"l":1,"h":7},{"s":"TSGP1","g":30,"y":3.5,"l":1,"h":7.2},{"s":"TSGP1","g":35,"y":4,"l":1.1,"h":7.8},{"s":"TSGP1","g":40,"y":4.2,"l":1.1,"h":8},{"s":"TSGP1","g":45,"y":4.3,"l":1.2,"h":8.2},{"s":"TSGP1","g":50,"y":4.3,"l":1.2,"h":8.2},{"s":"TSGP1","g":55,"y":4.2,"l":1.2,"h":8},{"s":"TSGP1","g":60,"y":4,"l":1.1,"h":7.8},{"s":"TSGP1","g":65,"y":4,"l":1.1,"h":7.8},{"s":"TSGP1","g":70,"y":4,"l":1.1,"h":7.8},{"s":"TSGP1","g":75,"y":3.9,"l":1.1,"h":7.6},{"s":"TSGP1","g":80,"y":3.8,"l":1.1,"h":7.5},{"s":"TSGP1","g":85,"y":3.8,"l":1.1,"h":7.5},{"s":"TSGP1","g":90,"y":3.8,"l":1.1,"h":7.5},{"s":"TSGP1","g":95,"y":3.8,"l":1.1,"h":7.5},{"s":"TSGP1","g":100,"y":3.8,"l":1.1,"h":7.5},
{"s":"TSGP2","g":1,"y":8,"l":2,"h":15},{"s":"TSGP2","g":3,"y":5.5,"l":1.8,"h":12},{"s":"TSGP2","g":5,"y":6,"l":1.8,"h":14},{"s":"TSGP2","g":8,"y":8.5,"l":2,"h":17},{"s":"TSGP2","g":10,"y":7,"l":2,"h":17},{"s":"TSGP2","g":12,"y":6.5,"l":1.8,"h":17},{"s":"TSGP2","g":15,"y":7.8,"l":1.8,"h":18},{"s":"TSGP2","g":18,"y":5,"l":1.6,"h":18},{"s":"TSGP2","g":20,"y":4.5,"l":1.5,"h":18},{"s":"TSGP2","g":25,"y":4.5,"l":1.5,"h":18.5},{"s":"TSGP2","g":30,"y":4.5,"l":1.5,"h":19},{"s":"TSGP2","g":35,"y":4.4,"l":1.5,"h":19},{"s":"TSGP2","g":40,"y":4.2,"l":1.5,"h":19},{"s":"TSGP2","g":45,"y":4.4,"l":1.5,"h":19.5},{"s":"TSGP2","g":50,"y":4.5,"l":1.5,"h":19.5},{"s":"TSGP2","g":55,"y":4.5,"l":1.5,"h":19.5},{"s":"TSGP2","g":60,"y":4.5,"l":1.5,"h":20},{"s":"TSGP2","g":65,"y":4.6,"l":1.5,"h":19.5},{"s":"TSGP2","g":70,"y":4.5,"l":1.5,"h":20},{"s":"TSGP2","g":75,"y":4.5,"l":1.5,"h":19.5},{"s":"TSGP2","g":80,"y":4.5,"l":1.5,"h":20},{"s":"TSGP2","g":85,"y":4.6,"l":1.5,"h":19.5},{"s":"TSGP2","g":90,"y":4.7,"l":1.5,"h":20},{"s":"TSGP2","g":95,"y":5,"l":1.5,"h":20},{"s":"TSGP2","g":100,"y":5.5,"l":1.6,"h":20},
{"s":"TSGP5","g":1,"y":10,"l":1.5,"h":12},{"s":"TSGP5","g":2,"y":8,"l":1.5,"h":12},{"s":"TSGP5","g":3,"y":6.5,"l":1.5,"h":15},{"s":"TSGP5","g":5,"y":10,"l":1.5,"h":20},{"s":"TSGP5","g":8,"y":11.5,"l":1.5,"h":22},{"s":"TSGP5","g":10,"y":11,"l":1.5,"h":24},{"s":"TSGP5","g":12,"y":12,"l":1.5,"h":24.5},{"s":"TSGP5","g":15,"y":12.7,"l":1.5,"h":25},{"s":"TSGP5","g":18,"y":11.5,"l":1.5,"h":24},{"s":"TSGP5","g":20,"y":11.8,"l":1.5,"h":25},{"s":"TSGP5","g":22,"y":11.3,"l":1.5,"h":24.5},{"s":"TSGP5","g":25,"y":11,"l":1.5,"h":25.5},{"s":"TSGP5","g":28,"y":10.5,"l":1.5,"h":25},{"s":"TSGP5","g":30,"y":9.5,"l":1.5,"h":26},{"s":"TSGP5","g":32,"y":9.8,"l":1.5,"h":25},{"s":"TSGP5","g":35,"y":10.3,"l":1.5,"h":24.5},{"s":"TSGP5","g":38,"y":11,"l":1.5,"h":26},{"s":"TSGP5","g":40,"y":10.8,"l":1.5,"h":25},{"s":"TSGP5","g":43,"y":11.2,"l":1.5,"h":26.5},{"s":"TSGP5","g":45,"y":11,"l":1.5,"h":25.5},{"s":"TSGP5","g":48,"y":11.3,"l":1.5,"h":26},{"s":"TSGP5","g":50,"y":11,"l":1.5,"h":25},{"s":"TSGP5","g":53,"y":11.2,"l":1.5,"h":26},{"s":"TSGP5","g":55,"y":10.7,"l":1.5,"h":26.5},{"s":"TSGP5","g":58,"y":11,"l":1.5,"h":25},{"s":"TSGP5","g":60,"y":11,"l":1.5,"h":26},{"s":"TSGP5","g":63,"y":10.6,"l":1.5,"h":25.5},{"s":"TSGP5","g":65,"y":10.5,"l":1.5,"h":26},{"s":"TSGP5","g":68,"y":10.9,"l":1.5,"h":25},{"s":"TSGP5","g":70,"y":10.8,"l":1.5,"h":26},{"s":"TSGP5","g":73,"y":11,"l":1.5,"h":26.5},{"s":"TSGP5","g":75,"y":11,"l":1.5,"h":25},{"s":"TSGP5","g":78,"y":10.6,"l":1.5,"h":26},{"s":"TSGP5","g":80,"y":10.8,"l":1.5,"h":25.5},{"s":"TSGP5","g":83,"y":11,"l":1.5,"h":25},{"s":"TSGP5","g":85,"y":10.8,"l":1.5,"h":26},{"s":"TSGP5","g":88,"y":10.4,"l":1.5,"h":25},{"s":"TSGP5","g":90,"y":10.5,"l":1.5,"h":25.5},{"s":"TSGP5","g":93,"y":10.8,"l":1.5,"h":25},{"s":"TSGP5","g":95,"y":10.5,"l":1.5,"h":26},{"s":"TSGP5","g":98,"y":11.2,"l":1.5,"h":27},{"s":"TSGP5","g":100,"y":10.8,"l":1.5,"h":27},
{"s":"stdGP","g":1,"y":22,"l":0.5,"h":34},{"s":"stdGP","g":3,"y":2.5,"l":0.5,"h":20},{"s":"stdGP","g":5,"y":4.5,"l":0.5,"h":22},{"s":"stdGP","g":7,"y":6,"l":0.5,"h":22.5},{"s":"stdGP","g":10,"y":8.5,"l":0.5,"h":23},{"s":"stdGP","g":12,"y":8.8,"l":0.5,"h":23},{"s":"stdGP","g":15,"y":9,"l":0.5,"h":23},{"s":"stdGP","g":18,"y":9.1,"l":0.5,"h":22},{"s":"stdGP","g":20,"y":9,"l":0.5,"h":22.5},{"s":"stdGP","g":23,"y":9.2,"l":0.5,"h":23},{"s":"stdGP","g":25,"y":9.5,"l":0.5,"h":22},{"s":"stdGP","g":27,"y":9.7,"l":0.5,"h":22.5},{"s":"stdGP","g":30,"y":9,"l":0.5,"h":22},{"s":"stdGP","g":33,"y":9.3,"l":0.5,"h":21.5},{"s":"stdGP","g":35,"y":9.5,"l":0.5,"h":22},{"s":"stdGP","g":37,"y":9.2,"l":0.5,"h":21},{"s":"stdGP","g":40,"y":7.5,"l":0.5,"h":21},{"s":"stdGP","g":43,"y":7.6,"l":0.5,"h":21.5},{"s":"stdGP","g":45,"y":7.4,"l":0.5,"h":21},{"s":"stdGP","g":48,"y":7.6,"l":0.5,"h":21},{"s":"stdGP","g":50,"y":7.5,"l":0.5,"h":21.5},{"s":"stdGP","g":53,"y":7.2,"l":0.5,"h":21},{"s":"stdGP","g":55,"y":6.8,"l":0.5,"h":20.5},{"s":"stdGP","g":58,"y":7.4,"l":0.5,"h":21},{"s":"stdGP","g":60,"y":7.6,"l":0.5,"h":21},{"s":"stdGP","g":63,"y":7,"l":0.5,"h":21},{"s":"stdGP","g":65,"y":6.5,"l":0.5,"h":20.5},{"s":"stdGP","g":68,"y":7,"l":0.5,"h":21},{"s":"stdGP","g":70,"y":7.3,"l":0.5,"h":21},{"s":"stdGP","g":73,"y":7.6,"l":0.5,"h":20.5},{"s":"stdGP","g":75,"y":7.8,"l":0.5,"h":21},{"s":"stdGP","g":78,"y":7.6,"l":0.5,"h":20},{"s":"stdGP","g":80,"y":7.8,"l":0.5,"h":20.5},{"s":"stdGP","g":83,"y":7.2,"l":0.5,"h":20},{"s":"stdGP","g":85,"y":7,"l":0.5,"h":20.5},{"s":"stdGP","g":88,"y":6.8,"l":0.5,"h":20},{"s":"stdGP","g":90,"y":6.5,"l":0.5,"h":20},{"s":"stdGP","g":93,"y":6.8,"l":0.5,"h":20.5},{"s":"stdGP","g":95,"y":7,"l":0.5,"h":20},{"s":"stdGP","g":98,"y":7.2,"l":0.5,"h":20},{"s":"stdGP","g":100,"y":6.9,"l":0.5,"h":20},
{"s":"SLIM_GSGP","g":1,"y":3.2,"l":1.8,"h":5.5},{"s":"SLIM_GSGP","g":2,"y":3.2,"l":1.8,"h":5.5},{"s":"SLIM_GSGP","g":3,"y":3.3,"l":1.9,"h":5.6},{"s":"SLIM_GSGP","g":5,"y":4,"l":2.4,"h":6.3},{"s":"SLIM_GSGP","g":7,"y":4.3,"l":2.6,"h":6.6},{"s":"SLIM_GSGP","g":10,"y":4.4,"l":2.7,"h":6.7},{"s":"SLIM_GSGP","g":15,"y":4.5,"l":2.8,"h":6.8},{"s":"SLIM_GSGP","g":20,"y":4.5,"l":2.8,"h":6.8},{"s":"SLIM_GSGP","g":25,"y":4.5,"l":2.8,"h":6.8},{"s":"SLIM_GSGP","g":30,"y":4.4,"l":2.7,"h":6.7},{"s":"SLIM_GSGP","g":35,"y":4.4,"l":2.7,"h":6.7},{"s":"SLIM_GSGP","g":40,"y":4.4,"l":2.7,"h":6.7},{"s":"SLIM_GSGP","g":45,"y":4.4,"l":2.7,"h":6.7},{"s":"SLIM_GSGP","g":50,"y":4.4,"l":2.7,"h":6.7},{"s":"SLIM_GSGP","g":55,"y":4.4,"l":2.7,"h":6.7},{"s":"SLIM_GSGP","g":60,"y":4.4,"l":2.7,"h":6.7},{"s":"SLIM_GSGP","g":65,"y":4.4,"l":2.7,"h":6.7},{"s":"SLIM_GSGP","g":70,"y":4.4,"l":2.7,"h":6.7},{"s":"SLIM_GSGP","g":75,"y":4.4,"l":2.7,"h":6.7},{"s":"SLIM_GSGP","g":80,"y":4.4,"l":2.7,"h":6.7},{"s":"SLIM_GSGP","g":85,"y":4.4,"l":2.7,"h":6.7},{"s":"SLIM_GSGP","g":90,"y":4.4,"l":2.7,"h":6.7},{"s":"SLIM_GSGP","g":95,"y":4.4,"l":2.7,"h":6.7},{"s":"SLIM_GSGP","g":100,"y":4.4,"l":2.7,"h":6.7}
]
}
}
